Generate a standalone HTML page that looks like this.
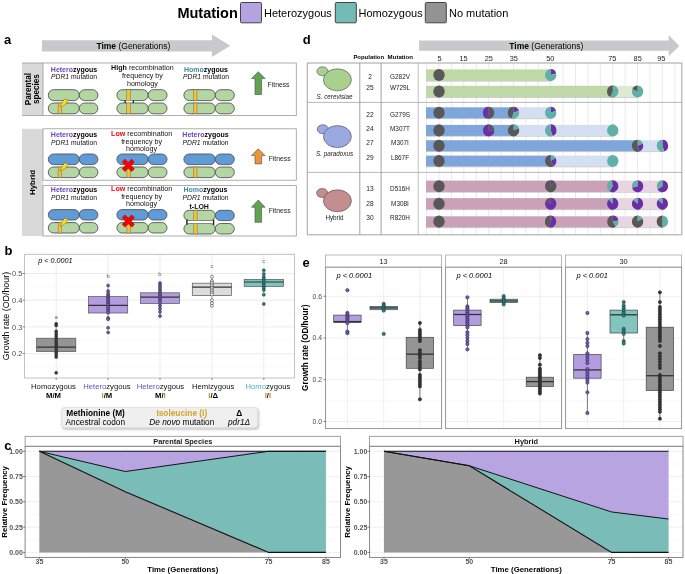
<!DOCTYPE html>
<html><head><meta charset="utf-8"><style>
html,body{margin:0;padding:0;background:#fff;}
svg{display:block;will-change:transform;font-family:"Liberation Sans", sans-serif;}
</style></head><body>
<svg width="685" height="574" viewBox="0 0 685 574" font-family='"Liberation Sans", sans-serif'>
<text x="177.40" y="18.30" font-size="14.5" text-anchor="start" font-weight="bold" font-style="normal" fill="#000" >Mutation</text>
<rect x="240.50" y="2.50" width="21.00" height="20.30" fill="#b6a2e0" stroke="#444" stroke-width="1" rx="1" />
<text x="264.00" y="17.30" font-size="11" text-anchor="start" font-weight="normal" font-style="normal" fill="#000" >Heterozygous</text>
<rect x="335.30" y="2.50" width="21.00" height="20.30" fill="#74bab5" stroke="#444" stroke-width="1" rx="1" />
<text x="358.50" y="17.30" font-size="11" text-anchor="start" font-weight="normal" font-style="normal" fill="#000" >Homozygous</text>
<rect x="425.30" y="2.50" width="21.00" height="20.30" fill="#939393" stroke="#444" stroke-width="1" rx="1" />
<text x="449.00" y="17.30" font-size="11" text-anchor="start" font-weight="normal" font-style="normal" fill="#000" >No mutation</text>
<text x="4.00" y="44.00" font-size="13" text-anchor="start" font-weight="bold" font-style="normal" fill="#000" >a</text>
<polygon points="42.00,40.20 212.00,40.20 212.00,34.50 230.30,45.80 212.00,57.00 212.00,51.50 42.00,51.50" fill="#c8c9cc" stroke="none" stroke-width="0" />
<text x="96.4" y="49.4" font-size="8.5"><tspan font-weight="bold">Time</tspan> (Generations)</text>
<rect x="22.00" y="63.00" width="21.00" height="52.50" fill="#d9d9d9" stroke="none" stroke-width="0" rx="0" />
<rect x="43.00" y="63.00" width="253.30" height="52.50" fill="#fff" stroke="#9a9a9a" stroke-width="0.8" rx="0" />
<line x1="22.00" y1="63.00" x2="43.00" y2="63.00" stroke="#9a9a9a" stroke-width="0.8" />
<line x1="22.00" y1="115.50" x2="43.00" y2="115.50" stroke="#9a9a9a" stroke-width="0.8" />
<text font-size="8.2" font-weight="bold" text-anchor="middle" transform="translate(31,89.1) rotate(-90)"><tspan x="0" y="-0.5">Parental</tspan><tspan x="0" y="8.0">species</tspan></text>
<rect x="22.00" y="128.80" width="21.00" height="107.20" fill="#d9d9d9" stroke="none" stroke-width="0" rx="0" />
<text font-size="7.9" font-weight="bold" text-anchor="middle" transform="translate(34.6,182.5) rotate(-90)">Hybrid</text>
<rect x="43.00" y="128.80" width="253.30" height="51.40" fill="#fff" stroke="#9a9a9a" stroke-width="0.8" rx="0" />
<rect x="43.00" y="185.60" width="253.30" height="50.40" fill="#fff" stroke="#9a9a9a" stroke-width="0.8" rx="0" />
<text x="74" y="71.5" font-size="7.0" text-anchor="middle" font-weight="bold"><tspan fill="#6548bd">Hetero</tspan>zygous</text>
<text x="74" y="79.3" font-size="6.75" text-anchor="middle" fill="#111"><tspan font-style="italic">PDR1</tspan> mutation</text>
<text x="142.4" y="69.9" font-size="7.15" text-anchor="middle" fill="#111"><tspan font-weight="bold" fill="#111">High</tspan> recombination</text>
<text x="142.4" y="77.9" font-size="7.15" text-anchor="middle" fill="#111">frequency by</text>
<text x="142.4" y="85.9" font-size="7.15" text-anchor="middle" fill="#111">homology</text>
<text x="206" y="71.5" font-size="7.0" text-anchor="middle" font-weight="bold"><tspan fill="#44899b">Homo</tspan>zygous</text>
<text x="206" y="79.3" font-size="6.75" text-anchor="middle" fill="#111"><tspan font-style="italic">PDR1</tspan> mutation</text>
<rect x="48.30" y="89.70" width="31.00" height="10.90" fill="#b3d6a3" stroke="#555555" stroke-width="0.9" rx="5.449999999999996" />
<rect x="79.30" y="89.70" width="18.60" height="10.90" fill="#b3d6a3" stroke="#555555" stroke-width="0.9" rx="5.449999999999996" />
<rect x="48.30" y="103.00" width="31.00" height="10.80" fill="#b3d6a3" stroke="#555555" stroke-width="0.9" rx="5.399999999999999" />
<rect x="79.30" y="103.00" width="18.60" height="10.80" fill="#b3d6a3" stroke="#555555" stroke-width="0.9" rx="5.399999999999999" />
<rect x="58.10" y="103.00" width="3.30" height="10.80" fill="#f6c02e" stroke="#5a5a5a" stroke-width="0.4" rx="0" />
<polygon points="60.00,107.00 61.60,103.00 64.60,99.00 68.60,99.90 66.50,102.00 67.60,102.80 62.00,106.40" fill="#ffdc14" stroke="#3a3a3a" stroke-width="0.35" stroke-linejoin="round"/>
<rect x="116.90" y="89.70" width="31.30" height="10.90" fill="#b3d6a3" stroke="#555555" stroke-width="0.9" rx="5.449999999999996" />
<rect x="148.20" y="89.70" width="18.80" height="10.90" fill="#b3d6a3" stroke="#555555" stroke-width="0.9" rx="5.449999999999996" />
<rect x="116.90" y="103.00" width="31.30" height="10.80" fill="#b3d6a3" stroke="#555555" stroke-width="0.9" rx="5.399999999999999" />
<rect x="148.20" y="103.00" width="18.80" height="10.80" fill="#b3d6a3" stroke="#555555" stroke-width="0.9" rx="5.399999999999999" />
<rect x="126.70" y="89.70" width="3.50" height="10.90" fill="#f6c02e" stroke="#5a5a5a" stroke-width="0.4" rx="0" />
<rect x="126.70" y="103.00" width="3.50" height="10.80" fill="#f6c02e" stroke="#5a5a5a" stroke-width="0.4" rx="0" />
<rect x="125.10" y="100.50" width="8.30" height="2.20" fill="#fff" stroke="#777" stroke-width="0.4" rx="0" />
<line x1="125.20" y1="100.30" x2="125.20" y2="102.90" stroke="#222" stroke-width="1.3" />
<line x1="133.30" y1="100.30" x2="133.30" y2="102.90" stroke="#222" stroke-width="1.3" />
<rect x="183.90" y="89.70" width="31.40" height="10.90" fill="#b3d6a3" stroke="#555555" stroke-width="0.9" rx="5.449999999999996" />
<rect x="215.30" y="89.70" width="19.00" height="10.90" fill="#b3d6a3" stroke="#555555" stroke-width="0.9" rx="5.449999999999996" />
<rect x="183.90" y="103.00" width="31.40" height="10.80" fill="#b3d6a3" stroke="#555555" stroke-width="0.9" rx="5.399999999999999" />
<rect x="215.30" y="103.00" width="19.00" height="10.80" fill="#b3d6a3" stroke="#555555" stroke-width="0.9" rx="5.399999999999999" />
<rect x="193.60" y="89.70" width="3.40" height="10.90" fill="#f6c02e" stroke="#5a5a5a" stroke-width="0.4" rx="0" />
<rect x="193.60" y="103.00" width="3.40" height="10.80" fill="#f6c02e" stroke="#5a5a5a" stroke-width="0.4" rx="0" />
<polygon points="258.30,71.70 265.10,78.60 261.60,78.60 261.60,94.50 255.00,94.50 255.00,78.60 251.50,78.60" fill="#62a34f" stroke="#4a4a4a" stroke-width="0.6" />
<text x="267.60" y="87.10" font-size="6.8" text-anchor="start" font-weight="normal" font-style="normal" fill="#222" >Fitness</text>
<text x="74" y="136.9" font-size="7.0" text-anchor="middle" font-weight="bold"><tspan fill="#6548bd">Hetero</tspan>zygous</text>
<text x="74" y="144.70000000000002" font-size="6.75" text-anchor="middle" fill="#111"><tspan font-style="italic">PDR1</tspan> mutation</text>
<text x="141.6" y="135.9" font-size="7.15" text-anchor="middle" fill="#111"><tspan font-weight="bold" fill="#ff0000">Low</tspan> recombination</text>
<text x="141.6" y="143.6" font-size="7.15" text-anchor="middle" fill="#111">frequency by</text>
<text x="141.6" y="151.3" font-size="7.15" text-anchor="middle" fill="#111">homology</text>
<text x="205.5" y="136.9" font-size="7.0" text-anchor="middle" font-weight="bold"><tspan fill="#6548bd">Hetero</tspan>zygous</text>
<text x="205.5" y="144.70000000000002" font-size="6.75" text-anchor="middle" fill="#111"><tspan font-style="italic">PDR1</tspan> mutation</text>
<rect x="48.30" y="154.00" width="31.00" height="10.60" fill="#5f9bd6" stroke="#555555" stroke-width="0.9" rx="5.299999999999997" />
<rect x="79.30" y="154.00" width="18.60" height="10.60" fill="#5f9bd6" stroke="#555555" stroke-width="0.9" rx="5.299999999999997" />
<rect x="48.30" y="167.00" width="31.00" height="10.60" fill="#b3d6a3" stroke="#555555" stroke-width="0.9" rx="5.299999999999997" />
<rect x="79.30" y="167.00" width="18.60" height="10.60" fill="#b3d6a3" stroke="#555555" stroke-width="0.9" rx="5.299999999999997" />
<rect x="58.10" y="167.00" width="3.30" height="10.60" fill="#f6c02e" stroke="#5a5a5a" stroke-width="0.4" rx="0" />
<polygon points="60.00,170.90 61.60,166.90 64.60,162.90 68.60,163.80 66.50,165.90 67.60,166.70 62.00,170.30" fill="#ffdc14" stroke="#3a3a3a" stroke-width="0.35" stroke-linejoin="round"/>
<rect x="116.90" y="154.00" width="31.30" height="10.60" fill="#5f9bd6" stroke="#555555" stroke-width="0.9" rx="5.299999999999997" />
<rect x="148.20" y="154.00" width="18.80" height="10.60" fill="#5f9bd6" stroke="#555555" stroke-width="0.9" rx="5.299999999999997" />
<rect x="116.90" y="167.00" width="31.30" height="10.60" fill="#b3d6a3" stroke="#555555" stroke-width="0.9" rx="5.299999999999997" />
<rect x="148.20" y="167.00" width="18.80" height="10.60" fill="#b3d6a3" stroke="#555555" stroke-width="0.9" rx="5.299999999999997" />
<rect x="126.90" y="164.50" width="3.30" height="13.10" fill="#f6c02e" stroke="#5a5a5a" stroke-width="0.4" rx="0" />
<line x1="123.50" y1="160.60" x2="133.10" y2="170.20" stroke="#6b2020" stroke-width="4.3" />
<line x1="123.50" y1="170.20" x2="133.10" y2="160.60" stroke="#6b2020" stroke-width="4.3" />
<line x1="123.50" y1="160.60" x2="133.10" y2="170.20" stroke="#ff0000" stroke-width="3.3" />
<line x1="123.50" y1="170.20" x2="133.10" y2="160.60" stroke="#ff0000" stroke-width="3.3" />
<line x1="123.50" y1="160.60" x2="133.10" y2="170.20" stroke="#ff0000" stroke-width="3.3"/>
<rect x="183.90" y="154.00" width="31.40" height="10.60" fill="#5f9bd6" stroke="#555555" stroke-width="0.9" rx="5.299999999999997" />
<rect x="215.30" y="154.00" width="19.00" height="10.60" fill="#5f9bd6" stroke="#555555" stroke-width="0.9" rx="5.299999999999997" />
<rect x="183.90" y="167.00" width="31.40" height="10.60" fill="#b3d6a3" stroke="#555555" stroke-width="0.9" rx="5.299999999999997" />
<rect x="215.30" y="167.00" width="19.00" height="10.60" fill="#b3d6a3" stroke="#555555" stroke-width="0.9" rx="5.299999999999997" />
<rect x="193.60" y="167.00" width="3.40" height="10.60" fill="#f6c02e" stroke="#5a5a5a" stroke-width="0.4" rx="0" />
<polygon points="258.30,148.80 265.10,155.60 261.60,155.60 261.60,163.90 255.00,163.90 255.00,155.60 251.50,155.60" fill="#f0943a" stroke="#4a4a4a" stroke-width="0.6" />
<text x="268.70" y="161.10" font-size="6.8" text-anchor="start" font-weight="normal" font-style="normal" fill="#222" >Fitness</text>
<text x="74" y="191.9" font-size="7.0" text-anchor="middle" font-weight="bold"><tspan fill="#6548bd">Hetero</tspan>zygous</text>
<text x="74" y="199.70000000000002" font-size="6.75" text-anchor="middle" fill="#111"><tspan font-style="italic">PDR1</tspan> mutation</text>
<text x="141.6" y="190.9" font-size="7.15" text-anchor="middle" fill="#111"><tspan font-weight="bold" fill="#ff0000">Low</tspan> recombination</text>
<text x="141.6" y="198.6" font-size="7.15" text-anchor="middle" fill="#111">frequency by</text>
<text x="141.6" y="206.3" font-size="7.15" text-anchor="middle" fill="#111">homology</text>
<text x="205.5" y="191.9" font-size="7.0" text-anchor="middle" font-weight="bold"><tspan fill="#44899b">Homo</tspan>zygous</text>
<text x="205.5" y="199.70000000000002" font-size="6.75" text-anchor="middle" fill="#111"><tspan font-style="italic">PDR1</tspan> mutation</text>
<text x="199.20" y="208.80" font-size="7.0" text-anchor="middle" font-weight="bold" font-style="normal" fill="#111" >t-LOH</text>
<rect x="48.30" y="209.60" width="31.00" height="10.40" fill="#5f9bd6" stroke="#555555" stroke-width="0.9" rx="5.200000000000003" />
<rect x="79.30" y="209.60" width="18.60" height="10.40" fill="#5f9bd6" stroke="#555555" stroke-width="0.9" rx="5.200000000000003" />
<rect x="48.30" y="222.60" width="31.00" height="10.40" fill="#b3d6a3" stroke="#555555" stroke-width="0.9" rx="5.200000000000003" />
<rect x="79.30" y="222.60" width="18.60" height="10.40" fill="#b3d6a3" stroke="#555555" stroke-width="0.9" rx="5.200000000000003" />
<rect x="58.10" y="222.60" width="3.30" height="10.40" fill="#f6c02e" stroke="#5a5a5a" stroke-width="0.4" rx="0" />
<polygon points="60.00,226.20 61.60,222.20 64.60,218.20 68.60,219.10 66.50,221.20 67.60,222.00 62.00,225.60" fill="#ffdc14" stroke="#3a3a3a" stroke-width="0.35" stroke-linejoin="round"/>
<rect x="116.90" y="209.60" width="31.30" height="10.40" fill="#5f9bd6" stroke="#555555" stroke-width="0.9" rx="5.200000000000003" />
<rect x="148.20" y="209.60" width="18.80" height="10.40" fill="#5f9bd6" stroke="#555555" stroke-width="0.9" rx="5.200000000000003" />
<rect x="116.90" y="222.60" width="31.30" height="10.40" fill="#b3d6a3" stroke="#555555" stroke-width="0.9" rx="5.200000000000003" />
<rect x="148.20" y="222.60" width="18.80" height="10.40" fill="#b3d6a3" stroke="#555555" stroke-width="0.9" rx="5.200000000000003" />
<rect x="126.90" y="220.10" width="3.30" height="12.90" fill="#f6c02e" stroke="#5a5a5a" stroke-width="0.4" rx="0" />
<line x1="123.50" y1="216.20" x2="133.10" y2="225.80" stroke="#6b2020" stroke-width="4.3" />
<line x1="123.50" y1="225.80" x2="133.10" y2="216.20" stroke="#6b2020" stroke-width="4.3" />
<line x1="123.50" y1="216.20" x2="133.10" y2="225.80" stroke="#ff0000" stroke-width="3.3" />
<line x1="123.50" y1="225.80" x2="133.10" y2="216.20" stroke="#ff0000" stroke-width="3.3" />
<line x1="123.50" y1="216.20" x2="133.10" y2="225.80" stroke="#ff0000" stroke-width="3.3"/>
<rect x="183.90" y="210.30" width="31.40" height="10.30" fill="#b3d6a3" stroke="#555555" stroke-width="0.9" rx="5.1499999999999915" />
<rect x="215.30" y="210.30" width="19.00" height="10.30" fill="#5f9bd6" stroke="#555555" stroke-width="0.9" rx="5.1499999999999915" />
<rect x="183.90" y="223.50" width="31.40" height="10.50" fill="#b3d6a3" stroke="#555555" stroke-width="0.9" rx="5.25" />
<rect x="215.30" y="223.50" width="19.00" height="10.50" fill="#b3d6a3" stroke="#555555" stroke-width="0.9" rx="5.25" />
<rect x="193.80" y="210.30" width="3.30" height="10.30" fill="#f6c02e" stroke="#5a5a5a" stroke-width="0.4" rx="0" />
<rect x="193.80" y="223.50" width="3.30" height="10.50" fill="#f6c02e" stroke="#5a5a5a" stroke-width="0.4" rx="0" />
<rect x="186.80" y="220.80" width="26.90" height="2.50" fill="#fff" stroke="#777" stroke-width="0.4" rx="0" />
<line x1="186.90" y1="219.60" x2="186.90" y2="224.80" stroke="#222" stroke-width="1.4" />
<line x1="213.60" y1="219.60" x2="213.60" y2="224.80" stroke="#222" stroke-width="1.4" />
<polygon points="258.30,200.00 265.10,207.20 261.60,207.20 261.60,222.30 255.00,222.30 255.00,207.20 251.50,207.20" fill="#62a34f" stroke="#4a4a4a" stroke-width="0.6" />
<text x="268.70" y="213.40" font-size="6.8" text-anchor="start" font-weight="normal" font-style="normal" fill="#222" >Fitness</text>
<text x="4.50" y="254.80" font-size="13" text-anchor="start" font-weight="bold" font-style="normal" fill="#000" >b</text>
<rect x="24.60" y="254.30" width="270.00" height="123.70" fill="#fff" stroke="none" stroke-width="0" rx="0" />
<line x1="24.60" y1="366.95" x2="294.60" y2="366.95" stroke="#f5f5f5" stroke-width="0.5" />
<line x1="24.60" y1="340.25" x2="294.60" y2="340.25" stroke="#f5f5f5" stroke-width="0.5" />
<line x1="24.60" y1="313.55" x2="294.60" y2="313.55" stroke="#f5f5f5" stroke-width="0.5" />
<line x1="24.60" y1="286.85" x2="294.60" y2="286.85" stroke="#f5f5f5" stroke-width="0.5" />
<line x1="24.60" y1="260.15" x2="294.60" y2="260.15" stroke="#f5f5f5" stroke-width="0.5" />
<line x1="24.60" y1="353.60" x2="294.60" y2="353.60" stroke="#ebebeb" stroke-width="0.9" />
<line x1="24.60" y1="326.90" x2="294.60" y2="326.90" stroke="#ebebeb" stroke-width="0.9" />
<line x1="24.60" y1="300.20" x2="294.60" y2="300.20" stroke="#ebebeb" stroke-width="0.9" />
<line x1="24.60" y1="273.50" x2="294.60" y2="273.50" stroke="#ebebeb" stroke-width="0.9" />
<line x1="56.20" y1="254.30" x2="56.20" y2="378.00" stroke="#ebebeb" stroke-width="0.9" />
<line x1="108.10" y1="254.30" x2="108.10" y2="378.00" stroke="#ebebeb" stroke-width="0.9" />
<line x1="160.00" y1="254.30" x2="160.00" y2="378.00" stroke="#ebebeb" stroke-width="0.9" />
<line x1="211.90" y1="254.30" x2="211.90" y2="378.00" stroke="#ebebeb" stroke-width="0.9" />
<line x1="263.80" y1="254.30" x2="263.80" y2="378.00" stroke="#ebebeb" stroke-width="0.9" />
<rect x="24.60" y="254.30" width="270.00" height="123.70" fill="none" stroke="#b3b3b3" stroke-width="0.8" rx="0" />
<line x1="22.60" y1="353.60" x2="24.60" y2="353.60" stroke="#333" stroke-width="0.6" />
<text x="22.30" y="356.20" font-size="7.4" text-anchor="end" font-weight="normal" font-style="normal" fill="#4d4d4d" >0.2</text>
<line x1="22.60" y1="326.90" x2="24.60" y2="326.90" stroke="#333" stroke-width="0.6" />
<text x="22.30" y="329.50" font-size="7.4" text-anchor="end" font-weight="normal" font-style="normal" fill="#4d4d4d" >0.3</text>
<line x1="22.60" y1="300.20" x2="24.60" y2="300.20" stroke="#333" stroke-width="0.6" />
<text x="22.30" y="302.80" font-size="7.4" text-anchor="end" font-weight="normal" font-style="normal" fill="#4d4d4d" >0.4</text>
<line x1="22.60" y1="273.50" x2="24.60" y2="273.50" stroke="#333" stroke-width="0.6" />
<text x="22.30" y="276.10" font-size="7.4" text-anchor="end" font-weight="normal" font-style="normal" fill="#4d4d4d" >0.5</text>
<line x1="56.20" y1="378.00" x2="56.20" y2="380.00" stroke="#333" stroke-width="0.6" />
<line x1="108.10" y1="378.00" x2="108.10" y2="380.00" stroke="#333" stroke-width="0.6" />
<line x1="160.00" y1="378.00" x2="160.00" y2="380.00" stroke="#333" stroke-width="0.6" />
<line x1="211.90" y1="378.00" x2="211.90" y2="380.00" stroke="#333" stroke-width="0.6" />
<line x1="263.80" y1="378.00" x2="263.80" y2="380.00" stroke="#333" stroke-width="0.6" />
<text font-size="8.9" text-anchor="middle" transform="translate(9.0,316.0) rotate(-90)">Growth rate (OD/hour)</text>
<text x="38.30" y="262.50" font-size="7.2" text-anchor="start" font-weight="normal" font-style="italic" fill="#000" >p &lt; 0.0001</text>
<line x1="56.20" y1="323.70" x2="56.20" y2="338.20" stroke="#777" stroke-width="0.6" />
<line x1="56.20" y1="351.50" x2="56.20" y2="357.00" stroke="#777" stroke-width="0.6" />
<rect x="36.60" y="338.20" width="39.20" height="13.30" fill="#959595" stroke="#555" stroke-width="0.7" rx="0" />
<line x1="36.60" y1="347.20" x2="75.80" y2="347.20" stroke="#333" stroke-width="1.2" />
<circle cx="56.20" cy="323.70" r="1.50" fill="#3a3a3a" stroke="#2a2a2a" stroke-width="0.55"/>
<circle cx="56.20" cy="325.40" r="1.50" fill="#3a3a3a" stroke="#2a2a2a" stroke-width="0.55"/>
<circle cx="56.20" cy="331.30" r="1.50" fill="#3a3a3a" stroke="#2a2a2a" stroke-width="0.55"/>
<circle cx="56.20" cy="333.64" r="1.50" fill="#3a3a3a" stroke="#2a2a2a" stroke-width="0.55"/>
<circle cx="56.20" cy="335.97" r="1.50" fill="#3a3a3a" stroke="#2a2a2a" stroke-width="0.55"/>
<circle cx="56.20" cy="338.31" r="1.50" fill="#3a3a3a" stroke="#2a2a2a" stroke-width="0.55"/>
<circle cx="56.20" cy="340.65" r="1.50" fill="#3a3a3a" stroke="#2a2a2a" stroke-width="0.55"/>
<circle cx="56.20" cy="342.98" r="1.50" fill="#3a3a3a" stroke="#2a2a2a" stroke-width="0.55"/>
<circle cx="56.20" cy="345.32" r="1.50" fill="#3a3a3a" stroke="#2a2a2a" stroke-width="0.55"/>
<circle cx="56.20" cy="347.65" r="1.50" fill="#3a3a3a" stroke="#2a2a2a" stroke-width="0.55"/>
<circle cx="56.20" cy="349.99" r="1.50" fill="#3a3a3a" stroke="#2a2a2a" stroke-width="0.55"/>
<circle cx="56.20" cy="352.33" r="1.50" fill="#3a3a3a" stroke="#2a2a2a" stroke-width="0.55"/>
<circle cx="56.20" cy="354.66" r="1.50" fill="#3a3a3a" stroke="#2a2a2a" stroke-width="0.55"/>
<circle cx="56.20" cy="357.00" r="1.50" fill="#3a3a3a" stroke="#2a2a2a" stroke-width="0.55"/>
<circle cx="56.20" cy="372.80" r="1.50" fill="#3a3a3a" stroke="#2a2a2a" stroke-width="0.55"/>
<text x="56.20" y="319.30" font-size="5.9" text-anchor="middle" font-weight="normal" font-style="normal" fill="#666" >a</text>
<line x1="108.10" y1="285.50" x2="108.10" y2="296.50" stroke="#777" stroke-width="0.6" />
<line x1="108.10" y1="313.00" x2="108.10" y2="319.30" stroke="#777" stroke-width="0.6" />
<rect x="88.50" y="296.50" width="39.20" height="16.50" fill="#b39de0" stroke="#555" stroke-width="0.7" rx="0" />
<line x1="88.50" y1="305.30" x2="127.70" y2="305.30" stroke="#333" stroke-width="1.2" />
<circle cx="108.10" cy="285.50" r="1.50" fill="#7459c6" stroke="#2a2a2a" stroke-width="0.55"/>
<circle cx="108.10" cy="291.00" r="1.50" fill="#7459c6" stroke="#2a2a2a" stroke-width="0.55"/>
<circle cx="108.10" cy="293.40" r="1.50" fill="#7459c6" stroke="#2a2a2a" stroke-width="0.55"/>
<circle cx="108.10" cy="295.20" r="1.50" fill="#7459c6" stroke="#2a2a2a" stroke-width="0.55"/>
<circle cx="108.10" cy="296.90" r="1.50" fill="#7459c6" stroke="#2a2a2a" stroke-width="0.55"/>
<circle cx="108.10" cy="298.30" r="1.50" fill="#7459c6" stroke="#2a2a2a" stroke-width="0.55"/>
<circle cx="108.10" cy="300.00" r="1.50" fill="#7459c6" stroke="#2a2a2a" stroke-width="0.55"/>
<circle cx="108.10" cy="301.50" r="1.50" fill="#7459c6" stroke="#2a2a2a" stroke-width="0.55"/>
<circle cx="108.10" cy="303.10" r="1.50" fill="#7459c6" stroke="#2a2a2a" stroke-width="0.55"/>
<circle cx="108.10" cy="304.80" r="1.50" fill="#7459c6" stroke="#2a2a2a" stroke-width="0.55"/>
<circle cx="108.10" cy="306.80" r="1.50" fill="#7459c6" stroke="#2a2a2a" stroke-width="0.55"/>
<circle cx="108.10" cy="308.80" r="1.50" fill="#7459c6" stroke="#2a2a2a" stroke-width="0.55"/>
<circle cx="108.10" cy="310.70" r="1.50" fill="#7459c6" stroke="#2a2a2a" stroke-width="0.55"/>
<circle cx="108.10" cy="312.70" r="1.50" fill="#7459c6" stroke="#2a2a2a" stroke-width="0.55"/>
<circle cx="108.10" cy="318.00" r="1.50" fill="#7459c6" stroke="#2a2a2a" stroke-width="0.55"/>
<circle cx="108.10" cy="319.30" r="1.50" fill="#7459c6" stroke="#2a2a2a" stroke-width="0.55"/>
<circle cx="108.10" cy="327.80" r="1.50" fill="#7459c6" stroke="#2a2a2a" stroke-width="0.55"/>
<circle cx="108.10" cy="332.40" r="1.50" fill="#7459c6" stroke="#2a2a2a" stroke-width="0.55"/>
<text x="108.10" y="278.30" font-size="5.9" text-anchor="middle" font-weight="normal" font-style="normal" fill="#666" >b</text>
<line x1="160.00" y1="283.10" x2="160.00" y2="292.80" stroke="#777" stroke-width="0.6" />
<line x1="160.00" y1="303.50" x2="160.00" y2="316.00" stroke="#777" stroke-width="0.6" />
<rect x="140.40" y="292.80" width="39.20" height="10.70" fill="#b39de0" stroke="#555" stroke-width="0.7" rx="0" />
<line x1="140.40" y1="297.20" x2="179.60" y2="297.20" stroke="#333" stroke-width="1.2" />
<circle cx="160.00" cy="283.10" r="1.50" fill="#7459c6" stroke="#2a2a2a" stroke-width="0.55"/>
<circle cx="160.00" cy="285.10" r="1.50" fill="#7459c6" stroke="#2a2a2a" stroke-width="0.55"/>
<circle cx="160.00" cy="287.10" r="1.50" fill="#7459c6" stroke="#2a2a2a" stroke-width="0.55"/>
<circle cx="160.00" cy="289.10" r="1.50" fill="#7459c6" stroke="#2a2a2a" stroke-width="0.55"/>
<circle cx="160.00" cy="291.00" r="1.50" fill="#7459c6" stroke="#2a2a2a" stroke-width="0.55"/>
<circle cx="160.00" cy="293.00" r="1.50" fill="#7459c6" stroke="#2a2a2a" stroke-width="0.55"/>
<circle cx="160.00" cy="295.00" r="1.50" fill="#7459c6" stroke="#2a2a2a" stroke-width="0.55"/>
<circle cx="160.00" cy="296.90" r="1.50" fill="#7459c6" stroke="#2a2a2a" stroke-width="0.55"/>
<circle cx="160.00" cy="298.90" r="1.50" fill="#7459c6" stroke="#2a2a2a" stroke-width="0.55"/>
<circle cx="160.00" cy="300.90" r="1.50" fill="#7459c6" stroke="#2a2a2a" stroke-width="0.55"/>
<circle cx="160.00" cy="303.50" r="1.50" fill="#7459c6" stroke="#2a2a2a" stroke-width="0.55"/>
<circle cx="160.00" cy="306.10" r="1.50" fill="#7459c6" stroke="#2a2a2a" stroke-width="0.55"/>
<circle cx="160.00" cy="308.80" r="1.50" fill="#7459c6" stroke="#2a2a2a" stroke-width="0.55"/>
<circle cx="160.00" cy="311.80" r="1.50" fill="#7459c6" stroke="#2a2a2a" stroke-width="0.55"/>
<circle cx="160.00" cy="316.00" r="1.50" fill="#7459c6" stroke="#2a2a2a" stroke-width="0.55"/>
<text x="160.00" y="275.60" font-size="5.9" text-anchor="middle" font-weight="normal" font-style="normal" fill="#666" >b</text>
<line x1="211.90" y1="276.60" x2="211.90" y2="283.20" stroke="#777" stroke-width="0.6" />
<line x1="211.90" y1="295.60" x2="211.90" y2="305.80" stroke="#777" stroke-width="0.6" />
<rect x="192.30" y="283.20" width="39.20" height="12.40" fill="#dcdcdc" stroke="#555" stroke-width="0.7" rx="0" />
<line x1="192.30" y1="287.10" x2="231.50" y2="287.10" stroke="#333" stroke-width="1.2" />
<circle cx="211.90" cy="276.60" r="1.50" fill="#fff" stroke="#2a2a2a" stroke-width="0.55"/>
<circle cx="211.90" cy="281.00" r="1.50" fill="#fff" stroke="#2a2a2a" stroke-width="0.55"/>
<circle cx="211.90" cy="282.68" r="1.50" fill="#fff" stroke="#2a2a2a" stroke-width="0.55"/>
<circle cx="211.90" cy="284.35" r="1.50" fill="#fff" stroke="#2a2a2a" stroke-width="0.55"/>
<circle cx="211.90" cy="286.02" r="1.50" fill="#fff" stroke="#2a2a2a" stroke-width="0.55"/>
<circle cx="211.90" cy="287.70" r="1.50" fill="#fff" stroke="#2a2a2a" stroke-width="0.55"/>
<circle cx="211.90" cy="289.38" r="1.50" fill="#fff" stroke="#2a2a2a" stroke-width="0.55"/>
<circle cx="211.90" cy="291.05" r="1.50" fill="#fff" stroke="#2a2a2a" stroke-width="0.55"/>
<circle cx="211.90" cy="292.72" r="1.50" fill="#fff" stroke="#2a2a2a" stroke-width="0.55"/>
<circle cx="211.90" cy="294.40" r="1.50" fill="#fff" stroke="#2a2a2a" stroke-width="0.55"/>
<circle cx="211.90" cy="300.30" r="1.50" fill="#fff" stroke="#2a2a2a" stroke-width="0.55"/>
<circle cx="211.90" cy="303.20" r="1.50" fill="#fff" stroke="#2a2a2a" stroke-width="0.55"/>
<circle cx="211.90" cy="305.80" r="1.50" fill="#fff" stroke="#2a2a2a" stroke-width="0.55"/>
<text x="211.90" y="267.50" font-size="5.9" text-anchor="middle" font-weight="normal" font-style="normal" fill="#666" >c</text>
<line x1="263.80" y1="270.30" x2="263.80" y2="279.40" stroke="#777" stroke-width="0.6" />
<line x1="263.80" y1="286.40" x2="263.80" y2="294.70" stroke="#777" stroke-width="0.6" />
<rect x="244.20" y="279.40" width="39.20" height="7.00" fill="#7cc4be" stroke="#555" stroke-width="0.7" rx="0" />
<line x1="244.20" y1="282.00" x2="283.40" y2="282.00" stroke="#333" stroke-width="1.2" />
<circle cx="263.80" cy="270.30" r="1.50" fill="#1f8a86" stroke="#2a2a2a" stroke-width="0.55"/>
<circle cx="263.80" cy="274.00" r="1.50" fill="#1f8a86" stroke="#2a2a2a" stroke-width="0.55"/>
<circle cx="263.80" cy="276.90" r="1.50" fill="#1f8a86" stroke="#2a2a2a" stroke-width="0.55"/>
<circle cx="263.80" cy="279.10" r="1.50" fill="#1f8a86" stroke="#2a2a2a" stroke-width="0.55"/>
<circle cx="263.80" cy="281.30" r="1.50" fill="#1f8a86" stroke="#2a2a2a" stroke-width="0.55"/>
<circle cx="263.80" cy="283.50" r="1.50" fill="#1f8a86" stroke="#2a2a2a" stroke-width="0.55"/>
<circle cx="263.80" cy="285.70" r="1.50" fill="#1f8a86" stroke="#2a2a2a" stroke-width="0.55"/>
<circle cx="263.80" cy="287.80" r="1.50" fill="#1f8a86" stroke="#2a2a2a" stroke-width="0.55"/>
<circle cx="263.80" cy="290.00" r="1.50" fill="#1f8a86" stroke="#2a2a2a" stroke-width="0.55"/>
<circle cx="263.80" cy="294.70" r="1.50" fill="#1f8a86" stroke="#2a2a2a" stroke-width="0.55"/>
<circle cx="263.80" cy="303.90" r="1.50" fill="#1f8a86" stroke="#2a2a2a" stroke-width="0.55"/>
<text x="263.80" y="262.50" font-size="5.9" text-anchor="middle" font-weight="normal" font-style="normal" fill="#666" >c</text>
<text x="53.5" y="389.0" font-size="7.7" text-anchor="middle" fill="#111">Homozygous</text>
<text x="53.5" y="397.7" font-size="7.7" text-anchor="middle" font-weight="bold"><tspan fill="#000">M</tspan><tspan fill="#000">/</tspan><tspan fill="#000">M</tspan></text>
<text x="106.9" y="389.0" font-size="7.7" text-anchor="middle" fill="#111"><tspan fill="#5d55b8">Hetero</tspan>zygous</text>
<text x="106.9" y="397.7" font-size="7.7" text-anchor="middle" font-weight="bold"><tspan fill="#c8902a">I</tspan><tspan fill="#000">/M</tspan></text>
<text x="160.4" y="389.0" font-size="7.7" text-anchor="middle" fill="#111"><tspan fill="#5d55b8">Hetero</tspan>zygous</text>
<text x="160.4" y="397.7" font-size="7.7" text-anchor="middle" font-weight="bold"><tspan fill="#000">M/</tspan><tspan fill="#c8902a">I</tspan></text>
<text x="213.2" y="389.0" font-size="7.7" text-anchor="middle" fill="#111">Hemizygous</text>
<text x="213.2" y="397.7" font-size="7.7" text-anchor="middle" font-weight="bold"><tspan fill="#c8902a">I</tspan><tspan fill="#000">/</tspan><tspan fill="#000">Δ</tspan></text>
<text x="267.9" y="389.0" font-size="7.7" text-anchor="middle" fill="#111"><tspan fill="#4fb0c0">Homo</tspan>zygous</text>
<text x="267.9" y="397.7" font-size="7.7" text-anchor="middle" font-weight="bold"><tspan fill="#c8902a">I</tspan><tspan fill="#000">/</tspan><tspan fill="#c8902a">I</tspan></text>
<defs><filter id="sh" x="-5%" y="-10%" width="110%" height="130%"><feDropShadow dx="0.8" dy="1.2" stdDeviation="0.8" flood-color="#000" flood-opacity="0.35"/></filter></defs>
<rect x="61.60" y="407.40" width="196.00" height="20.40" fill="#efefef" stroke="#cfcfcf" stroke-width="0.5" rx="3" filter="url(#sh)"/>
<text x="95.60" y="415.70" font-size="8.3" text-anchor="middle" font-weight="bold" font-style="normal" fill="#000" >Methionine (M)</text>
<text x="95.30" y="425.20" font-size="8.3" text-anchor="middle" font-weight="normal" font-style="normal" fill="#000" >Ancestral codon</text>
<text x="181.80" y="415.70" font-size="8.3" text-anchor="middle" font-weight="bold" font-style="normal" fill="#d8a322" >Isoleucine (I)</text>
<text x="181.8" y="425.2" font-size="8.3" text-anchor="middle"><tspan font-style="italic">De novo</tspan> mutation</text>
<text x="239.20" y="415.70" font-size="8.3" text-anchor="middle" font-weight="bold" font-style="normal" fill="#000" >Δ</text>
<text x="239.00" y="425.20" font-size="8.3" text-anchor="middle" font-weight="normal" font-style="italic" fill="#000" >pdr1Δ</text>
<text x="4.30" y="449.60" font-size="13" text-anchor="start" font-weight="bold" font-style="normal" fill="#000" >c</text>
<rect x="25.10" y="436.30" width="315.40" height="10.00" fill="#fff" stroke="#8a8a8a" stroke-width="0.8" rx="0" />
<text x="182.80" y="443.60" font-size="7.4" text-anchor="middle" font-weight="bold" font-style="normal" fill="#1a1a1a" >Parental Species</text>
<rect x="25.10" y="446.30" width="315.40" height="111.10" fill="#fff" stroke="none" stroke-width="0" rx="0" />
<line x1="25.10" y1="539.76" x2="340.50" y2="539.76" stroke="#f5f5f5" stroke-width="0.5" />
<line x1="25.10" y1="514.49" x2="340.50" y2="514.49" stroke="#f5f5f5" stroke-width="0.5" />
<line x1="25.10" y1="489.21" x2="340.50" y2="489.21" stroke="#f5f5f5" stroke-width="0.5" />
<line x1="25.10" y1="463.94" x2="340.50" y2="463.94" stroke="#f5f5f5" stroke-width="0.5" />
<line x1="82.38" y1="446.30" x2="82.38" y2="557.40" stroke="#f5f5f5" stroke-width="0.5" />
<line x1="196.98" y1="446.30" x2="196.98" y2="557.40" stroke="#f5f5f5" stroke-width="0.5" />
<line x1="297.25" y1="446.30" x2="297.25" y2="557.40" stroke="#f5f5f5" stroke-width="0.5" />
<line x1="25.10" y1="552.40" x2="340.50" y2="552.40" stroke="#ebebeb" stroke-width="0.8" />
<line x1="25.10" y1="527.12" x2="340.50" y2="527.12" stroke="#ebebeb" stroke-width="0.8" />
<line x1="25.10" y1="501.85" x2="340.50" y2="501.85" stroke="#ebebeb" stroke-width="0.8" />
<line x1="25.10" y1="476.57" x2="340.50" y2="476.57" stroke="#ebebeb" stroke-width="0.8" />
<line x1="25.10" y1="451.30" x2="340.50" y2="451.30" stroke="#ebebeb" stroke-width="0.8" />
<line x1="39.40" y1="446.30" x2="39.40" y2="557.40" stroke="#ebebeb" stroke-width="0.8" />
<line x1="125.35" y1="446.30" x2="125.35" y2="557.40" stroke="#ebebeb" stroke-width="0.8" />
<line x1="268.60" y1="446.30" x2="268.60" y2="557.40" stroke="#ebebeb" stroke-width="0.8" />
<line x1="325.90" y1="446.30" x2="325.90" y2="557.40" stroke="#ebebeb" stroke-width="0.8" />
<polygon points="39.40,451.30 125.35,451.30 268.60,451.30 325.90,451.30 325.90,451.30 268.60,451.30 125.35,471.52 39.40,451.30" fill="#b6a1e0" stroke="none" stroke-width="0" opacity="0.97"/>
<polygon points="39.40,451.30 125.35,471.52 268.60,451.30 325.90,451.30 325.90,552.40 268.60,552.40 125.35,491.74 39.40,451.30" fill="#75bab6" stroke="none" stroke-width="0" opacity="0.97"/>
<polygon points="39.40,451.30 125.35,491.74 268.60,552.40 325.90,552.40 325.90,552.40 268.60,552.40 125.35,552.40 39.40,552.40" fill="#959595" stroke="none" stroke-width="0" opacity="0.97"/>
<polyline points="39.40,451.30 125.35,451.30 268.60,451.30 325.90,451.30" fill="none" stroke="#111" stroke-width="1.1" />
<polyline points="39.40,451.30 125.35,471.52 268.60,451.30 325.90,451.30" fill="none" stroke="#111" stroke-width="1.0" />
<polyline points="39.40,451.30 125.35,491.74 268.60,552.40 325.90,552.40" fill="none" stroke="#111" stroke-width="1.1" />
<rect x="25.10" y="446.30" width="315.40" height="111.10" fill="none" stroke="#7a7a7a" stroke-width="0.9" rx="0" />
<line x1="23.10" y1="552.40" x2="25.10" y2="552.40" stroke="#333" stroke-width="0.6" />
<text x="22.80" y="554.90" font-size="7.0" text-anchor="end" font-weight="bold" font-style="normal" fill="#555" >0.00</text>
<line x1="23.10" y1="527.12" x2="25.10" y2="527.12" stroke="#333" stroke-width="0.6" />
<text x="22.80" y="529.62" font-size="7.0" text-anchor="end" font-weight="bold" font-style="normal" fill="#555" >0.25</text>
<line x1="23.10" y1="501.85" x2="25.10" y2="501.85" stroke="#333" stroke-width="0.6" />
<text x="22.80" y="504.35" font-size="7.0" text-anchor="end" font-weight="bold" font-style="normal" fill="#555" >0.50</text>
<line x1="23.10" y1="476.57" x2="25.10" y2="476.57" stroke="#333" stroke-width="0.6" />
<text x="22.80" y="479.07" font-size="7.0" text-anchor="end" font-weight="bold" font-style="normal" fill="#555" >0.75</text>
<line x1="23.10" y1="451.30" x2="25.10" y2="451.30" stroke="#333" stroke-width="0.6" />
<text x="22.80" y="453.80" font-size="7.0" text-anchor="end" font-weight="bold" font-style="normal" fill="#555" >1.00</text>
<line x1="39.40" y1="557.40" x2="39.40" y2="559.40" stroke="#333" stroke-width="0.6" />
<text x="39.40" y="564.40" font-size="7.0" text-anchor="middle" font-weight="bold" font-style="normal" fill="#555" >35</text>
<line x1="125.35" y1="557.40" x2="125.35" y2="559.40" stroke="#333" stroke-width="0.6" />
<text x="125.35" y="564.40" font-size="7.0" text-anchor="middle" font-weight="bold" font-style="normal" fill="#555" >50</text>
<line x1="268.60" y1="557.40" x2="268.60" y2="559.40" stroke="#333" stroke-width="0.6" />
<text x="268.60" y="564.40" font-size="7.0" text-anchor="middle" font-weight="bold" font-style="normal" fill="#555" >75</text>
<line x1="325.90" y1="557.40" x2="325.90" y2="559.40" stroke="#333" stroke-width="0.6" />
<text x="325.90" y="564.40" font-size="7.0" text-anchor="middle" font-weight="bold" font-style="normal" fill="#555" >85</text>
<text font-size="7.8" font-weight="bold" text-anchor="middle" transform="translate(7.2,501.9) rotate(-90)">Relative Frequency</text>
<text x="182.80" y="572.20" font-size="7.8" text-anchor="middle" font-weight="bold" font-style="normal" fill="#000" >Time (Generations)</text>
<rect x="369.60" y="436.30" width="313.40" height="10.00" fill="#fff" stroke="#8a8a8a" stroke-width="0.8" rx="0" />
<text x="526.30" y="443.60" font-size="7.4" text-anchor="middle" font-weight="bold" font-style="normal" fill="#1a1a1a" >Hybrid</text>
<rect x="369.60" y="446.30" width="313.40" height="111.10" fill="#fff" stroke="none" stroke-width="0" rx="0" />
<line x1="369.60" y1="539.76" x2="683.00" y2="539.76" stroke="#f5f5f5" stroke-width="0.5" />
<line x1="369.60" y1="514.49" x2="683.00" y2="514.49" stroke="#f5f5f5" stroke-width="0.5" />
<line x1="369.60" y1="489.21" x2="683.00" y2="489.21" stroke="#f5f5f5" stroke-width="0.5" />
<line x1="369.60" y1="463.94" x2="683.00" y2="463.94" stroke="#f5f5f5" stroke-width="0.5" />
<line x1="426.68" y1="446.30" x2="426.68" y2="557.40" stroke="#f5f5f5" stroke-width="0.5" />
<line x1="540.48" y1="446.30" x2="540.48" y2="557.40" stroke="#f5f5f5" stroke-width="0.5" />
<line x1="640.05" y1="446.30" x2="640.05" y2="557.40" stroke="#f5f5f5" stroke-width="0.5" />
<line x1="369.60" y1="552.40" x2="683.00" y2="552.40" stroke="#ebebeb" stroke-width="0.8" />
<line x1="369.60" y1="527.12" x2="683.00" y2="527.12" stroke="#ebebeb" stroke-width="0.8" />
<line x1="369.60" y1="501.85" x2="683.00" y2="501.85" stroke="#ebebeb" stroke-width="0.8" />
<line x1="369.60" y1="476.57" x2="683.00" y2="476.57" stroke="#ebebeb" stroke-width="0.8" />
<line x1="369.60" y1="451.30" x2="683.00" y2="451.30" stroke="#ebebeb" stroke-width="0.8" />
<line x1="384.00" y1="446.30" x2="384.00" y2="557.40" stroke="#ebebeb" stroke-width="0.8" />
<line x1="469.35" y1="446.30" x2="469.35" y2="557.40" stroke="#ebebeb" stroke-width="0.8" />
<line x1="611.60" y1="446.30" x2="611.60" y2="557.40" stroke="#ebebeb" stroke-width="0.8" />
<line x1="668.50" y1="446.30" x2="668.50" y2="557.40" stroke="#ebebeb" stroke-width="0.8" />
<polygon points="384.00,451.30 469.35,451.30 611.60,451.30 668.50,451.30 668.50,519.04 611.60,511.96 469.35,465.76 384.00,451.30" fill="#b6a1e0" stroke="none" stroke-width="0" opacity="0.97"/>
<polygon points="384.00,451.30 469.35,465.76 611.60,511.96 668.50,519.04 668.50,552.40 611.60,552.40 469.35,465.76 384.00,451.30" fill="#75bab6" stroke="none" stroke-width="0" opacity="0.97"/>
<polygon points="384.00,451.30 469.35,465.76 611.60,552.40 668.50,552.40 668.50,552.40 611.60,552.40 469.35,552.40 384.00,552.40" fill="#959595" stroke="none" stroke-width="0" opacity="0.97"/>
<polyline points="384.00,451.30 469.35,451.30 611.60,451.30 668.50,451.30" fill="none" stroke="#111" stroke-width="1.1" />
<polyline points="384.00,451.30 469.35,465.76 611.60,511.96 668.50,519.04" fill="none" stroke="#111" stroke-width="1.0" />
<polyline points="384.00,451.30 469.35,465.76 611.60,552.40 668.50,552.40" fill="none" stroke="#111" stroke-width="1.1" />
<rect x="369.60" y="446.30" width="313.40" height="111.10" fill="none" stroke="#7a7a7a" stroke-width="0.9" rx="0" />
<line x1="367.60" y1="552.40" x2="369.60" y2="552.40" stroke="#333" stroke-width="0.6" />
<text x="367.30" y="554.90" font-size="7.0" text-anchor="end" font-weight="bold" font-style="normal" fill="#555" >0.00</text>
<line x1="367.60" y1="527.12" x2="369.60" y2="527.12" stroke="#333" stroke-width="0.6" />
<text x="367.30" y="529.62" font-size="7.0" text-anchor="end" font-weight="bold" font-style="normal" fill="#555" >0.25</text>
<line x1="367.60" y1="501.85" x2="369.60" y2="501.85" stroke="#333" stroke-width="0.6" />
<text x="367.30" y="504.35" font-size="7.0" text-anchor="end" font-weight="bold" font-style="normal" fill="#555" >0.50</text>
<line x1="367.60" y1="476.57" x2="369.60" y2="476.57" stroke="#333" stroke-width="0.6" />
<text x="367.30" y="479.07" font-size="7.0" text-anchor="end" font-weight="bold" font-style="normal" fill="#555" >0.75</text>
<line x1="367.60" y1="451.30" x2="369.60" y2="451.30" stroke="#333" stroke-width="0.6" />
<text x="367.30" y="453.80" font-size="7.0" text-anchor="end" font-weight="bold" font-style="normal" fill="#555" >1.00</text>
<line x1="384.00" y1="557.40" x2="384.00" y2="559.40" stroke="#333" stroke-width="0.6" />
<text x="384.00" y="564.40" font-size="7.0" text-anchor="middle" font-weight="bold" font-style="normal" fill="#555" >35</text>
<line x1="469.35" y1="557.40" x2="469.35" y2="559.40" stroke="#333" stroke-width="0.6" />
<text x="469.35" y="564.40" font-size="7.0" text-anchor="middle" font-weight="bold" font-style="normal" fill="#555" >50</text>
<line x1="611.60" y1="557.40" x2="611.60" y2="559.40" stroke="#333" stroke-width="0.6" />
<text x="611.60" y="564.40" font-size="7.0" text-anchor="middle" font-weight="bold" font-style="normal" fill="#555" >75</text>
<line x1="668.50" y1="557.40" x2="668.50" y2="559.40" stroke="#333" stroke-width="0.6" />
<text x="668.50" y="564.40" font-size="7.0" text-anchor="middle" font-weight="bold" font-style="normal" fill="#555" >85</text>
<text font-size="7.8" font-weight="bold" text-anchor="middle" transform="translate(349.7,501.9) rotate(-90)">Relative Frequency</text>
<text x="526.30" y="572.20" font-size="7.8" text-anchor="middle" font-weight="bold" font-style="normal" fill="#000" >Time (Generations)</text>
<text x="302.80" y="44.00" font-size="13" text-anchor="start" font-weight="bold" font-style="normal" fill="#000" >d</text>
<polygon points="419.10,40.40 668.70,40.40 668.70,35.10 679.40,45.90 668.70,56.30 668.70,50.80 419.10,50.80" fill="#c8c9cc" stroke="none" stroke-width="0" />
<text x="509.3" y="48.6" font-size="8.5"><tspan font-weight="bold">Time</tspan> (Generations)</text>
<text x="439.60" y="60.60" font-size="7.4" text-anchor="middle" font-weight="normal" font-style="normal" fill="#222" >5</text>
<text x="463.60" y="60.60" font-size="7.4" text-anchor="middle" font-weight="normal" font-style="normal" fill="#222" >15</text>
<text x="488.80" y="60.60" font-size="7.4" text-anchor="middle" font-weight="normal" font-style="normal" fill="#222" >25</text>
<text x="513.80" y="60.60" font-size="7.4" text-anchor="middle" font-weight="normal" font-style="normal" fill="#222" >35</text>
<text x="550.30" y="60.60" font-size="7.4" text-anchor="middle" font-weight="normal" font-style="normal" fill="#222" >50</text>
<text x="612.30" y="60.60" font-size="7.4" text-anchor="middle" font-weight="normal" font-style="normal" fill="#222" >75</text>
<text x="637.70" y="60.60" font-size="7.4" text-anchor="middle" font-weight="normal" font-style="normal" fill="#222" >85</text>
<text x="661.30" y="60.60" font-size="7.4" text-anchor="middle" font-weight="normal" font-style="normal" fill="#222" >95</text>
<text x="353.40" y="59.30" font-size="5.95" text-anchor="start" font-weight="bold" font-style="normal" fill="#000" >Population</text>
<text x="387.60" y="59.30" font-size="6.1" text-anchor="start" font-weight="bold" font-style="normal" fill="#000" >Mutation</text>
<line x1="426.60" y1="63.00" x2="426.60" y2="234.80" stroke="#dcdcdc" stroke-width="0.6" />
<line x1="439.01" y1="63.00" x2="439.01" y2="234.80" stroke="#dcdcdc" stroke-width="0.6" />
<line x1="451.42" y1="63.00" x2="451.42" y2="234.80" stroke="#dcdcdc" stroke-width="0.6" />
<line x1="463.83" y1="63.00" x2="463.83" y2="234.80" stroke="#dcdcdc" stroke-width="0.6" />
<line x1="476.24" y1="63.00" x2="476.24" y2="234.80" stroke="#dcdcdc" stroke-width="0.6" />
<line x1="488.65" y1="63.00" x2="488.65" y2="234.80" stroke="#dcdcdc" stroke-width="0.6" />
<line x1="501.06" y1="63.00" x2="501.06" y2="234.80" stroke="#dcdcdc" stroke-width="0.6" />
<line x1="513.47" y1="63.00" x2="513.47" y2="234.80" stroke="#dcdcdc" stroke-width="0.6" />
<line x1="525.88" y1="63.00" x2="525.88" y2="234.80" stroke="#dcdcdc" stroke-width="0.6" />
<line x1="538.29" y1="63.00" x2="538.29" y2="234.80" stroke="#dcdcdc" stroke-width="0.6" />
<line x1="550.70" y1="63.00" x2="550.70" y2="234.80" stroke="#dcdcdc" stroke-width="0.6" />
<line x1="563.11" y1="63.00" x2="563.11" y2="234.80" stroke="#dcdcdc" stroke-width="0.6" />
<line x1="575.52" y1="63.00" x2="575.52" y2="234.80" stroke="#dcdcdc" stroke-width="0.6" />
<line x1="587.93" y1="63.00" x2="587.93" y2="234.80" stroke="#dcdcdc" stroke-width="0.6" />
<line x1="600.34" y1="63.00" x2="600.34" y2="234.80" stroke="#dcdcdc" stroke-width="0.6" />
<line x1="612.75" y1="63.00" x2="612.75" y2="234.80" stroke="#dcdcdc" stroke-width="0.6" />
<line x1="625.16" y1="63.00" x2="625.16" y2="234.80" stroke="#dcdcdc" stroke-width="0.6" />
<line x1="637.57" y1="63.00" x2="637.57" y2="234.80" stroke="#dcdcdc" stroke-width="0.6" />
<line x1="649.98" y1="63.00" x2="649.98" y2="234.80" stroke="#dcdcdc" stroke-width="0.6" />
<line x1="662.39" y1="63.00" x2="662.39" y2="234.80" stroke="#dcdcdc" stroke-width="0.6" />
<line x1="674.80" y1="63.00" x2="674.80" y2="234.80" stroke="#dcdcdc" stroke-width="0.6" />
<line x1="307.30" y1="63.00" x2="681.80" y2="63.00" stroke="#8a8a8a" stroke-width="0.8" />
<line x1="307.30" y1="234.80" x2="681.80" y2="234.80" stroke="#8a8a8a" stroke-width="0.8" />
<line x1="307.30" y1="102.40" x2="681.80" y2="102.40" stroke="#b0b0b0" stroke-width="0.9" />
<line x1="307.30" y1="172.40" x2="681.80" y2="172.40" stroke="#b0b0b0" stroke-width="0.9" />
<line x1="307.30" y1="63.00" x2="307.30" y2="234.80" stroke="#8a8a8a" stroke-width="0.8" />
<line x1="681.80" y1="63.00" x2="681.80" y2="234.80" stroke="#8a8a8a" stroke-width="0.8" />
<line x1="359.80" y1="63.00" x2="359.80" y2="234.80" stroke="#8a8a8a" stroke-width="0.8" />
<line x1="381.10" y1="63.00" x2="381.10" y2="234.80" stroke="#8a8a8a" stroke-width="0.8" />
<line x1="418.20" y1="63.00" x2="418.20" y2="234.80" stroke="#b0b0b0" stroke-width="0.8" />
<ellipse cx="322.5" cy="71.3" rx="5.6" ry="4.5" fill="#a9d08e" stroke="#333" stroke-width="0.5"/>
<ellipse cx="337.4" cy="79.8" rx="14" ry="11" fill="#a9d08e" stroke="#333" stroke-width="0.5"/>
<text x="334.50" y="98.60" font-size="6.3" text-anchor="middle" font-weight="normal" font-style="italic" fill="#222" >S. cerevisiae</text>
<ellipse cx="322.8" cy="129.2" rx="5.6" ry="4.5" fill="#9aaae0" stroke="#333" stroke-width="0.5"/>
<ellipse cx="337.4" cy="136.6" rx="14" ry="11" fill="#9aaae0" stroke="#333" stroke-width="0.5"/>
<text x="334.50" y="155.60" font-size="6.3" text-anchor="middle" font-weight="normal" font-style="italic" fill="#222" >S. paradoxus</text>
<ellipse cx="322.2" cy="193.0" rx="5.6" ry="4.5" fill="#c48e8e" stroke="#333" stroke-width="0.5"/>
<ellipse cx="337.4" cy="200.8" rx="14" ry="11" fill="#c48e8e" stroke="#333" stroke-width="0.5"/>
<text x="334.50" y="220.30" font-size="6.3" text-anchor="middle" font-weight="normal" font-style="normal" fill="#222" >Hybrid</text>
<text x="370.00" y="78.80" font-size="6.6" text-anchor="middle" font-weight="normal" font-style="normal" fill="#222" >2</text>
<text x="400.00" y="78.80" font-size="6.4" text-anchor="middle" font-weight="normal" font-style="normal" fill="#222" >G282V</text>
<rect x="426.40" y="70.30" width="124.70" height="11.40" fill="#9a9a9a" stroke="none" stroke-width="0" rx="0" opacity="0.45"/>
<rect x="426.00" y="69.40" width="124.70" height="11.40" fill="#c0d8a8" stroke="none" stroke-width="0" rx="0" />
<g transform="translate(439.01,75.00) scale(1,1.06)"><circle cx="0" cy="0" r="5.7" fill="#585858"/></g>
<g transform="translate(550.70,75.00) scale(1,1.06)"><path d="M0,0 L0.00,-5.70 A5.7,5.7 0 0 1 5.51,-1.48 Z" fill="#6a2fa6"/><path d="M0,0 L5.51,-1.48 A5.7,5.7 0 1 1 -0.00,-5.70 Z" fill="#60b0a8"/></g>
<text x="370.00" y="90.00" font-size="6.6" text-anchor="middle" font-weight="normal" font-style="normal" fill="#222" >25</text>
<text x="400.00" y="90.00" font-size="6.4" text-anchor="middle" font-weight="normal" font-style="normal" fill="#222" >W729L</text>
<rect x="426.40" y="86.70" width="211.57" height="11.40" fill="#9a9a9a" stroke="none" stroke-width="0" rx="0" opacity="0.45"/>
<rect x="612.75" y="85.80" width="24.82" height="11.40" fill="#dde9d0" stroke="none" stroke-width="0" rx="0" />
<rect x="426.00" y="85.80" width="186.75" height="11.40" fill="#c0d8a8" stroke="none" stroke-width="0" rx="0" />
<g transform="translate(439.01,91.50) scale(1,1.06)"><circle cx="0" cy="0" r="5.7" fill="#585858"/></g>
<g transform="translate(612.75,91.50) scale(1,1.06)"><path d="M0,0 L0.00,-5.70 A5.7,5.7 0 0 1 0.99,-5.61 Z" fill="#585858"/><path d="M0,0 L0.99,-5.61 A5.7,5.7 0 1 1 -2.41,5.17 Z" fill="#60b0a8"/><path d="M0,0 L-2.41,5.17 A5.7,5.7 0 0 1 -0.00,-5.70 Z" fill="#585858"/></g>
<g transform="translate(637.57,91.50) scale(1,1.06)"><path d="M0,0 L0.00,-5.70 A5.7,5.7 0 1 1 -5.28,-2.14 Z" fill="#60b0a8"/><path d="M0,0 L-5.28,-2.14 A5.7,5.7 0 0 1 -0.00,-5.70 Z" fill="#585858"/></g>
<text x="370.00" y="116.50" font-size="6.6" text-anchor="middle" font-weight="normal" font-style="normal" fill="#222" >22</text>
<text x="400.00" y="116.50" font-size="6.4" text-anchor="middle" font-weight="normal" font-style="normal" fill="#222" >G279S</text>
<rect x="426.40" y="108.20" width="124.70" height="11.00" fill="#9a9a9a" stroke="none" stroke-width="0" rx="0" opacity="0.45"/>
<rect x="513.47" y="107.30" width="37.23" height="11.00" fill="#d4e0f1" stroke="none" stroke-width="0" rx="0" />
<rect x="426.00" y="107.30" width="87.47" height="11.00" fill="#7fa6da" stroke="none" stroke-width="0" rx="0" />
<g transform="translate(439.01,112.80) scale(1,1.06)"><circle cx="0" cy="0" r="5.7" fill="#585858"/></g>
<g transform="translate(488.65,112.80) scale(1,1.06)"><path d="M0,0 L0.00,-5.70 A5.7,5.7 0 1 1 -1.48,5.51 Z" fill="#585858"/><path d="M0,0 L-1.48,5.51 A5.7,5.7 0 0 1 -0.00,-5.70 Z" fill="#6a2fa6"/></g>
<g transform="translate(513.47,112.80) scale(1,1.06)"><path d="M0,0 L0.00,-5.70 A5.7,5.7 0 0 1 5.36,-1.95 Z" fill="#6a2fa6"/><path d="M0,0 L5.36,-1.95 A5.7,5.7 0 0 1 -1.95,5.36 Z" fill="#60b0a8"/><path d="M0,0 L-1.95,5.36 A5.7,5.7 0 0 1 -0.00,-5.70 Z" fill="#585858"/></g>
<g transform="translate(550.70,112.80) scale(1,1.06)"><path d="M0,0 L0.00,-5.70 A5.7,5.7 0 0 1 5.36,-1.95 Z" fill="#6a2fa6"/><path d="M0,0 L5.36,-1.95 A5.7,5.7 0 1 1 -0.00,-5.70 Z" fill="#60b0a8"/></g>
<text x="370.00" y="131.00" font-size="6.6" text-anchor="middle" font-weight="normal" font-style="normal" fill="#222" >24</text>
<text x="400.00" y="131.00" font-size="6.4" text-anchor="middle" font-weight="normal" font-style="normal" fill="#222" >M307T</text>
<rect x="426.40" y="125.80" width="186.75" height="11.00" fill="#9a9a9a" stroke="none" stroke-width="0" rx="0" opacity="0.45"/>
<rect x="513.47" y="124.90" width="99.28" height="11.00" fill="#d4e0f1" stroke="none" stroke-width="0" rx="0" />
<rect x="426.00" y="124.90" width="87.47" height="11.00" fill="#7fa6da" stroke="none" stroke-width="0" rx="0" />
<g transform="translate(439.01,130.40) scale(1,1.06)"><circle cx="0" cy="0" r="5.7" fill="#585858"/></g>
<g transform="translate(488.65,130.40) scale(1,1.06)"><path d="M0,0 L0.00,-5.70 A5.7,5.7 0 0 1 5.70,-0.00 Z" fill="#585858"/><path d="M0,0 L5.70,-0.00 A5.7,5.7 0 1 1 -0.00,-5.70 Z" fill="#6a2fa6"/></g>
<g transform="translate(513.47,130.40) scale(1,1.06)"><path d="M0,0 L0.00,-5.70 A5.7,5.7 0 0 1 5.36,-1.95 Z" fill="#60b0a8"/><path d="M0,0 L5.36,-1.95 A5.7,5.7 0 1 1 -0.00,-5.70 Z" fill="#585858"/></g>
<g transform="translate(550.70,130.40) scale(1,1.06)"><path d="M0,0 L0.00,-5.70 A5.7,5.7 0 0 1 1.95,5.36 Z" fill="#6a2fa6"/><path d="M0,0 L1.95,5.36 A5.7,5.7 0 1 1 -0.00,-5.70 Z" fill="#60b0a8"/></g>
<g transform="translate(612.75,130.40) scale(1,1.06)"><circle cx="0" cy="0" r="5.7" fill="#60b0a8"/></g>
<text x="370.00" y="145.40" font-size="6.6" text-anchor="middle" font-weight="normal" font-style="normal" fill="#222" >27</text>
<text x="400.00" y="145.40" font-size="6.4" text-anchor="middle" font-weight="normal" font-style="normal" fill="#222" >M307I</text>
<rect x="426.40" y="141.10" width="236.39" height="11.00" fill="#9a9a9a" stroke="none" stroke-width="0" rx="0" opacity="0.45"/>
<rect x="637.57" y="140.20" width="24.82" height="11.00" fill="#d4e0f1" stroke="none" stroke-width="0" rx="0" />
<rect x="426.00" y="140.20" width="211.57" height="11.00" fill="#7fa6da" stroke="none" stroke-width="0" rx="0" />
<g transform="translate(439.01,145.70) scale(1,1.06)"><circle cx="0" cy="0" r="5.7" fill="#585858"/></g>
<g transform="translate(637.57,145.70) scale(1,1.06)"><path d="M0,0 L0.00,-5.70 A5.7,5.7 0 0 1 5.36,-1.95 Z" fill="#60b0a8"/><path d="M0,0 L5.36,-1.95 A5.7,5.7 0 0 1 1.95,5.36 Z" fill="#6a2fa6"/><path d="M0,0 L1.95,5.36 A5.7,5.7 0 1 1 -0.00,-5.70 Z" fill="#585858"/></g>
<g transform="translate(662.39,145.70) scale(1,1.06)"><path d="M0,0 L0.00,-5.70 A5.7,5.7 0 0 1 1.95,5.36 Z" fill="#6a2fa6"/><path d="M0,0 L1.95,5.36 A5.7,5.7 0 1 1 -0.00,-5.70 Z" fill="#60b0a8"/></g>
<text x="370.00" y="159.80" font-size="6.6" text-anchor="middle" font-weight="normal" font-style="normal" fill="#222" >29</text>
<text x="400.00" y="159.80" font-size="6.4" text-anchor="middle" font-weight="normal" font-style="normal" fill="#222" >L867F</text>
<rect x="426.40" y="156.50" width="186.75" height="10.80" fill="#9a9a9a" stroke="none" stroke-width="0" rx="0" opacity="0.45"/>
<rect x="550.70" y="155.60" width="62.05" height="10.80" fill="#d4e0f1" stroke="none" stroke-width="0" rx="0" />
<rect x="426.00" y="155.60" width="124.70" height="10.80" fill="#7fa6da" stroke="none" stroke-width="0" rx="0" />
<g transform="translate(439.01,161.00) scale(1,1.06)"><circle cx="0" cy="0" r="5.7" fill="#585858"/></g>
<g transform="translate(550.70,161.00) scale(1,1.06)"><path d="M0,0 L0.00,-5.70 A5.7,5.7 0 0 1 4.94,-2.85 Z" fill="#60b0a8"/><path d="M0,0 L4.94,-2.85 A5.7,5.7 0 0 1 2.85,4.94 Z" fill="#6a2fa6"/><path d="M0,0 L2.85,4.94 A5.7,5.7 0 1 1 -0.00,-5.70 Z" fill="#585858"/></g>
<g transform="translate(612.75,161.00) scale(1,1.06)"><circle cx="0" cy="0" r="5.7" fill="#60b0a8"/></g>
<text x="370.00" y="191.20" font-size="6.6" text-anchor="middle" font-weight="normal" font-style="normal" fill="#222" >13</text>
<text x="400.00" y="191.20" font-size="6.4" text-anchor="middle" font-weight="normal" font-style="normal" fill="#222" >D516H</text>
<rect x="426.40" y="181.50" width="236.39" height="11.30" fill="#9a9a9a" stroke="none" stroke-width="0" rx="0" opacity="0.45"/>
<rect x="612.75" y="180.60" width="49.64" height="11.30" fill="#e7d6e1" stroke="none" stroke-width="0" rx="0" />
<rect x="426.00" y="180.60" width="186.75" height="11.30" fill="#c9a2ba" stroke="none" stroke-width="0" rx="0" />
<g transform="translate(439.01,186.20) scale(1,1.06)"><circle cx="0" cy="0" r="5.7" fill="#585858"/></g>
<g transform="translate(550.70,186.20) scale(1,1.06)"><path d="M0,0 L0.00,-5.70 A5.7,5.7 0 0 1 3.66,-4.37 Z" fill="#6a2fa6"/><path d="M0,0 L3.66,-4.37 A5.7,5.7 0 1 1 -0.00,-5.70 Z" fill="#585858"/></g>
<g transform="translate(612.75,186.20) scale(1,1.06)"><path d="M0,0 L0.00,-5.70 A5.7,5.7 0 1 1 -3.27,4.67 Z" fill="#6a2fa6"/><path d="M0,0 L-3.27,4.67 A5.7,5.7 0 0 1 -0.99,-5.61 Z" fill="#60b0a8"/><path d="M0,0 L-0.99,-5.61 A5.7,5.7 0 0 1 -0.00,-5.70 Z" fill="#6a2fa6"/></g>
<g transform="translate(637.57,186.20) scale(1,1.06)"><path d="M0,0 L0.00,-5.70 A5.7,5.7 0 1 1 -5.51,1.48 Z" fill="#6a2fa6"/><path d="M0,0 L-5.51,1.48 A5.7,5.7 0 0 1 -0.00,-5.70 Z" fill="#60b0a8"/></g>
<g transform="translate(662.39,186.20) scale(1,1.06)"><path d="M0,0 L0.00,-5.70 A5.7,5.7 0 1 1 -4.94,2.85 Z" fill="#6a2fa6"/><path d="M0,0 L-4.94,2.85 A5.7,5.7 0 0 1 -0.00,-5.70 Z" fill="#60b0a8"/></g>
<text x="370.00" y="205.70" font-size="6.6" text-anchor="middle" font-weight="normal" font-style="normal" fill="#222" >28</text>
<text x="400.00" y="205.70" font-size="6.4" text-anchor="middle" font-weight="normal" font-style="normal" fill="#222" >M308I</text>
<rect x="426.40" y="199.00" width="236.39" height="11.20" fill="#9a9a9a" stroke="none" stroke-width="0" rx="0" opacity="0.45"/>
<rect x="612.75" y="198.10" width="49.64" height="11.20" fill="#e7d6e1" stroke="none" stroke-width="0" rx="0" />
<rect x="426.00" y="198.10" width="186.75" height="11.20" fill="#c9a2ba" stroke="none" stroke-width="0" rx="0" />
<g transform="translate(439.01,203.70) scale(1,1.06)"><circle cx="0" cy="0" r="5.7" fill="#585858"/></g>
<g transform="translate(550.70,203.70) scale(1,1.06)"><path d="M0,0 L0.00,-5.70 A5.7,5.7 0 1 1 -4.94,-2.85 Z" fill="#6a2fa6"/><path d="M0,0 L-4.94,-2.85 A5.7,5.7 0 0 1 -0.00,-5.70 Z" fill="#585858"/></g>
<g transform="translate(612.75,203.70) scale(1,1.06)"><path d="M0,0 L0.00,-5.70 A5.7,5.7 0 1 1 -4.03,-4.03 Z" fill="#6a2fa6"/><path d="M0,0 L-4.03,-4.03 A5.7,5.7 0 0 1 -0.00,-5.70 Z" fill="#60b0a8"/></g>
<g transform="translate(637.57,203.70) scale(1,1.06)"><path d="M0,0 L0.00,-5.70 A5.7,5.7 0 1 1 -4.37,-3.66 Z" fill="#6a2fa6"/><path d="M0,0 L-4.37,-3.66 A5.7,5.7 0 0 1 -0.00,-5.70 Z" fill="#60b0a8"/></g>
<g transform="translate(662.39,203.70) scale(1,1.06)"><path d="M0,0 L0.00,-5.70 A5.7,5.7 0 1 1 -4.37,-3.66 Z" fill="#6a2fa6"/><path d="M0,0 L-4.37,-3.66 A5.7,5.7 0 0 1 -0.00,-5.70 Z" fill="#60b0a8"/></g>
<text x="370.00" y="220.40" font-size="6.6" text-anchor="middle" font-weight="normal" font-style="normal" fill="#222" >30</text>
<text x="400.00" y="220.40" font-size="6.4" text-anchor="middle" font-weight="normal" font-style="normal" fill="#222" >R820H</text>
<rect x="426.40" y="217.20" width="236.39" height="11.00" fill="#9a9a9a" stroke="none" stroke-width="0" rx="0" opacity="0.45"/>
<rect x="612.75" y="216.30" width="49.64" height="11.00" fill="#e7d6e1" stroke="none" stroke-width="0" rx="0" />
<rect x="426.00" y="216.30" width="186.75" height="11.00" fill="#c9a2ba" stroke="none" stroke-width="0" rx="0" />
<g transform="translate(439.01,221.60) scale(1,1.06)"><circle cx="0" cy="0" r="5.7" fill="#585858"/></g>
<g transform="translate(550.70,221.60) scale(1,1.06)"><path d="M0,0 L0.00,-5.70 A5.7,5.7 0 0 1 1.48,-5.51 Z" fill="#585858"/><path d="M0,0 L1.48,-5.51 A5.7,5.7 0 1 1 -1.95,5.36 Z" fill="#6a2fa6"/><path d="M0,0 L-1.95,5.36 A5.7,5.7 0 0 1 -0.00,-5.70 Z" fill="#585858"/></g>
<g transform="translate(612.75,221.60) scale(1,1.06)"><path d="M0,0 L0.00,-5.70 A5.7,5.7 0 0 1 5.61,-0.99 Z" fill="#6a2fa6"/><path d="M0,0 L5.61,-0.99 A5.7,5.7 0 0 1 2.85,4.94 Z" fill="#60b0a8"/><path d="M0,0 L2.85,4.94 A5.7,5.7 0 1 1 -0.00,-5.70 Z" fill="#585858"/></g>
<g transform="translate(637.57,221.60) scale(1,1.06)"><path d="M0,0 L0.00,-5.70 A5.7,5.7 0 0 1 4.94,-2.85 Z" fill="#60b0a8"/><path d="M0,0 L4.94,-2.85 A5.7,5.7 0 1 1 -0.00,-5.70 Z" fill="#585858"/></g>
<g transform="translate(662.39,221.60) scale(1,1.06)"><path d="M0,0 L0.00,-5.70 A5.7,5.7 0 0 1 0.00,5.70 Z" fill="#60b0a8"/><path d="M0,0 L0.00,5.70 A5.7,5.7 0 0 1 -0.00,-5.70 Z" fill="#585858"/></g>
<text x="302.60" y="267.20" font-size="13" text-anchor="start" font-weight="bold" font-style="normal" fill="#000" >e</text>
<rect x="325.60" y="255.00" width="116.00" height="12.20" fill="#fff" stroke="#a8a8a8" stroke-width="0.8" rx="0" />
<text x="383.60" y="264.40" font-size="7.4" text-anchor="middle" font-weight="normal" font-style="normal" fill="#1a1a1a" >13</text>
<rect x="325.60" y="267.20" width="116.00" height="161.40" fill="#fff" stroke="none" stroke-width="0" rx="0" />
<line x1="325.60" y1="400.63" x2="441.60" y2="400.63" stroke="#f5f5f5" stroke-width="0.5" />
<line x1="325.60" y1="358.89" x2="441.60" y2="358.89" stroke="#f5f5f5" stroke-width="0.5" />
<line x1="325.60" y1="317.15" x2="441.60" y2="317.15" stroke="#f5f5f5" stroke-width="0.5" />
<line x1="325.60" y1="275.41" x2="441.60" y2="275.41" stroke="#f5f5f5" stroke-width="0.5" />
<line x1="325.60" y1="421.50" x2="441.60" y2="421.50" stroke="#ebebeb" stroke-width="0.8" />
<line x1="325.60" y1="379.76" x2="441.60" y2="379.76" stroke="#ebebeb" stroke-width="0.8" />
<line x1="325.60" y1="338.02" x2="441.60" y2="338.02" stroke="#ebebeb" stroke-width="0.8" />
<line x1="325.60" y1="296.28" x2="441.60" y2="296.28" stroke="#ebebeb" stroke-width="0.8" />
<line x1="347.40" y1="267.20" x2="347.40" y2="428.60" stroke="#ebebeb" stroke-width="0.8" />
<line x1="383.70" y1="267.20" x2="383.70" y2="428.60" stroke="#ebebeb" stroke-width="0.8" />
<line x1="419.90" y1="267.20" x2="419.90" y2="428.60" stroke="#ebebeb" stroke-width="0.8" />
<rect x="325.60" y="267.20" width="116.00" height="161.40" fill="none" stroke="#8a8a8a" stroke-width="0.9" rx="0" />
<text x="336.40" y="277.60" font-size="7.5" text-anchor="start" font-weight="normal" font-style="italic" fill="#000" >p &lt; 0.0001</text>
<line x1="347.40" y1="312.80" x2="347.40" y2="315.10" stroke="#444" stroke-width="0.7" />
<line x1="347.40" y1="322.60" x2="347.40" y2="333.20" stroke="#444" stroke-width="0.7" />
<rect x="333.70" y="315.10" width="27.40" height="7.50" fill="#b39de0" stroke="#444" stroke-width="0.7" rx="0" />
<line x1="333.70" y1="321.60" x2="361.10" y2="321.60" stroke="#333" stroke-width="1.3" />
<circle cx="347.40" cy="290.20" r="1.65" fill="#7459c6" stroke="#262630" stroke-width="0.55"/>
<circle cx="347.40" cy="312.80" r="1.65" fill="#7459c6" stroke="#262630" stroke-width="0.55"/>
<circle cx="347.40" cy="314.50" r="1.65" fill="#7459c6" stroke="#262630" stroke-width="0.55"/>
<circle cx="347.40" cy="316.20" r="1.65" fill="#7459c6" stroke="#262630" stroke-width="0.55"/>
<circle cx="347.40" cy="317.90" r="1.65" fill="#7459c6" stroke="#262630" stroke-width="0.55"/>
<circle cx="347.40" cy="319.60" r="1.65" fill="#7459c6" stroke="#262630" stroke-width="0.55"/>
<circle cx="347.40" cy="321.30" r="1.65" fill="#7459c6" stroke="#262630" stroke-width="0.55"/>
<circle cx="347.40" cy="323.00" r="1.65" fill="#7459c6" stroke="#262630" stroke-width="0.55"/>
<circle cx="347.40" cy="331.60" r="1.65" fill="#7459c6" stroke="#262630" stroke-width="0.55"/>
<circle cx="347.40" cy="333.20" r="1.65" fill="#7459c6" stroke="#262630" stroke-width="0.55"/>
<line x1="383.70" y1="303.80" x2="383.70" y2="306.50" stroke="#444" stroke-width="0.7" />
<line x1="383.70" y1="309.70" x2="383.70" y2="310.60" stroke="#444" stroke-width="0.7" />
<rect x="370.00" y="306.50" width="27.40" height="3.20" fill="#82c5bf" stroke="#444" stroke-width="0.7" rx="0" />
<line x1="370.00" y1="307.90" x2="397.40" y2="307.90" stroke="#333" stroke-width="1.3" />
<circle cx="383.70" cy="303.80" r="1.65" fill="#1f8a86" stroke="#262630" stroke-width="0.55"/>
<circle cx="383.70" cy="305.50" r="1.65" fill="#1f8a86" stroke="#262630" stroke-width="0.55"/>
<circle cx="383.70" cy="307.20" r="1.65" fill="#1f8a86" stroke="#262630" stroke-width="0.55"/>
<circle cx="383.70" cy="308.90" r="1.65" fill="#1f8a86" stroke="#262630" stroke-width="0.55"/>
<circle cx="383.70" cy="310.60" r="1.65" fill="#1f8a86" stroke="#262630" stroke-width="0.55"/>
<circle cx="383.70" cy="333.90" r="1.65" fill="#1f8a86" stroke="#262630" stroke-width="0.55"/>
<line x1="419.90" y1="323.00" x2="419.90" y2="337.30" stroke="#444" stroke-width="0.7" />
<line x1="419.90" y1="368.30" x2="419.90" y2="399.30" stroke="#444" stroke-width="0.7" />
<rect x="406.20" y="337.30" width="27.40" height="31.00" fill="#959595" stroke="#444" stroke-width="0.7" rx="0" />
<line x1="406.20" y1="354.20" x2="433.60" y2="354.20" stroke="#333" stroke-width="1.3" />
<circle cx="419.90" cy="323.00" r="1.65" fill="#333" stroke="#262630" stroke-width="0.55"/>
<circle cx="419.90" cy="329.80" r="1.65" fill="#333" stroke="#262630" stroke-width="0.55"/>
<circle cx="419.90" cy="332.06" r="1.65" fill="#333" stroke="#262630" stroke-width="0.55"/>
<circle cx="419.90" cy="334.32" r="1.65" fill="#333" stroke="#262630" stroke-width="0.55"/>
<circle cx="419.90" cy="336.58" r="1.65" fill="#333" stroke="#262630" stroke-width="0.55"/>
<circle cx="419.90" cy="338.84" r="1.65" fill="#333" stroke="#262630" stroke-width="0.55"/>
<circle cx="419.90" cy="341.10" r="1.65" fill="#333" stroke="#262630" stroke-width="0.55"/>
<circle cx="419.90" cy="350.20" r="1.65" fill="#333" stroke="#262630" stroke-width="0.55"/>
<circle cx="419.90" cy="352.83" r="1.65" fill="#333" stroke="#262630" stroke-width="0.55"/>
<circle cx="419.90" cy="355.47" r="1.65" fill="#333" stroke="#262630" stroke-width="0.55"/>
<circle cx="419.90" cy="358.10" r="1.65" fill="#333" stroke="#262630" stroke-width="0.55"/>
<circle cx="419.90" cy="361.50" r="1.65" fill="#333" stroke="#262630" stroke-width="0.55"/>
<circle cx="419.90" cy="364.13" r="1.65" fill="#333" stroke="#262630" stroke-width="0.55"/>
<circle cx="419.90" cy="366.77" r="1.65" fill="#333" stroke="#262630" stroke-width="0.55"/>
<circle cx="419.90" cy="369.40" r="1.65" fill="#333" stroke="#262630" stroke-width="0.55"/>
<circle cx="419.90" cy="375.00" r="1.65" fill="#333" stroke="#262630" stroke-width="0.55"/>
<circle cx="419.90" cy="377.28" r="1.65" fill="#333" stroke="#262630" stroke-width="0.55"/>
<circle cx="419.90" cy="379.56" r="1.65" fill="#333" stroke="#262630" stroke-width="0.55"/>
<circle cx="419.90" cy="381.84" r="1.65" fill="#333" stroke="#262630" stroke-width="0.55"/>
<circle cx="419.90" cy="384.12" r="1.65" fill="#333" stroke="#262630" stroke-width="0.55"/>
<circle cx="419.90" cy="386.40" r="1.65" fill="#333" stroke="#262630" stroke-width="0.55"/>
<circle cx="419.90" cy="399.30" r="1.65" fill="#333" stroke="#262630" stroke-width="0.55"/>
<line x1="323.60" y1="421.50" x2="325.60" y2="421.50" stroke="#333" stroke-width="0.6" />
<text x="322.10" y="423.90" font-size="6.9" text-anchor="end" font-weight="normal" font-style="normal" fill="#4d4d4d" >0.0</text>
<line x1="323.60" y1="379.76" x2="325.60" y2="379.76" stroke="#333" stroke-width="0.6" />
<text x="322.10" y="382.16" font-size="6.9" text-anchor="end" font-weight="normal" font-style="normal" fill="#4d4d4d" >0.2</text>
<line x1="323.60" y1="338.02" x2="325.60" y2="338.02" stroke="#333" stroke-width="0.6" />
<text x="322.10" y="340.42" font-size="6.9" text-anchor="end" font-weight="normal" font-style="normal" fill="#4d4d4d" >0.4</text>
<line x1="323.60" y1="296.28" x2="325.60" y2="296.28" stroke="#333" stroke-width="0.6" />
<text x="322.10" y="298.68" font-size="6.9" text-anchor="end" font-weight="normal" font-style="normal" fill="#4d4d4d" >0.6</text>
<text font-size="8.2" font-weight="bold" text-anchor="middle" transform="translate(307.6,347.7) rotate(-90)">Growth rate (OD/hour)</text>
<rect x="445.60" y="255.00" width="116.00" height="12.20" fill="#fff" stroke="#a8a8a8" stroke-width="0.8" rx="0" />
<text x="503.60" y="264.40" font-size="7.4" text-anchor="middle" font-weight="normal" font-style="normal" fill="#1a1a1a" >28</text>
<rect x="445.60" y="267.20" width="116.00" height="161.40" fill="#fff" stroke="none" stroke-width="0" rx="0" />
<line x1="445.60" y1="400.63" x2="561.60" y2="400.63" stroke="#f5f5f5" stroke-width="0.5" />
<line x1="445.60" y1="358.89" x2="561.60" y2="358.89" stroke="#f5f5f5" stroke-width="0.5" />
<line x1="445.60" y1="317.15" x2="561.60" y2="317.15" stroke="#f5f5f5" stroke-width="0.5" />
<line x1="445.60" y1="275.41" x2="561.60" y2="275.41" stroke="#f5f5f5" stroke-width="0.5" />
<line x1="445.60" y1="421.50" x2="561.60" y2="421.50" stroke="#ebebeb" stroke-width="0.8" />
<line x1="445.60" y1="379.76" x2="561.60" y2="379.76" stroke="#ebebeb" stroke-width="0.8" />
<line x1="445.60" y1="338.02" x2="561.60" y2="338.02" stroke="#ebebeb" stroke-width="0.8" />
<line x1="445.60" y1="296.28" x2="561.60" y2="296.28" stroke="#ebebeb" stroke-width="0.8" />
<line x1="467.40" y1="267.20" x2="467.40" y2="428.60" stroke="#ebebeb" stroke-width="0.8" />
<line x1="503.70" y1="267.20" x2="503.70" y2="428.60" stroke="#ebebeb" stroke-width="0.8" />
<line x1="539.90" y1="267.20" x2="539.90" y2="428.60" stroke="#ebebeb" stroke-width="0.8" />
<rect x="445.60" y="267.20" width="116.00" height="161.40" fill="none" stroke="#8a8a8a" stroke-width="0.9" rx="0" />
<text x="456.40" y="277.60" font-size="7.5" text-anchor="start" font-weight="normal" font-style="italic" fill="#000" >p &lt; 0.0001</text>
<line x1="467.40" y1="297.30" x2="467.40" y2="310.10" stroke="#444" stroke-width="0.7" />
<line x1="467.40" y1="325.50" x2="467.40" y2="349.40" stroke="#444" stroke-width="0.7" />
<rect x="453.70" y="310.10" width="27.40" height="15.40" fill="#b39de0" stroke="#444" stroke-width="0.7" rx="0" />
<line x1="453.70" y1="314.50" x2="481.10" y2="314.50" stroke="#333" stroke-width="1.3" />
<circle cx="467.40" cy="297.30" r="1.65" fill="#7459c6" stroke="#262630" stroke-width="0.55"/>
<circle cx="467.40" cy="306.30" r="1.65" fill="#7459c6" stroke="#262630" stroke-width="0.55"/>
<circle cx="467.40" cy="308.22" r="1.65" fill="#7459c6" stroke="#262630" stroke-width="0.55"/>
<circle cx="467.40" cy="310.14" r="1.65" fill="#7459c6" stroke="#262630" stroke-width="0.55"/>
<circle cx="467.40" cy="312.05" r="1.65" fill="#7459c6" stroke="#262630" stroke-width="0.55"/>
<circle cx="467.40" cy="313.97" r="1.65" fill="#7459c6" stroke="#262630" stroke-width="0.55"/>
<circle cx="467.40" cy="315.89" r="1.65" fill="#7459c6" stroke="#262630" stroke-width="0.55"/>
<circle cx="467.40" cy="317.81" r="1.65" fill="#7459c6" stroke="#262630" stroke-width="0.55"/>
<circle cx="467.40" cy="319.73" r="1.65" fill="#7459c6" stroke="#262630" stroke-width="0.55"/>
<circle cx="467.40" cy="321.65" r="1.65" fill="#7459c6" stroke="#262630" stroke-width="0.55"/>
<circle cx="467.40" cy="323.56" r="1.65" fill="#7459c6" stroke="#262630" stroke-width="0.55"/>
<circle cx="467.40" cy="325.48" r="1.65" fill="#7459c6" stroke="#262630" stroke-width="0.55"/>
<circle cx="467.40" cy="327.40" r="1.65" fill="#7459c6" stroke="#262630" stroke-width="0.55"/>
<circle cx="467.40" cy="332.20" r="1.65" fill="#7459c6" stroke="#262630" stroke-width="0.55"/>
<circle cx="467.40" cy="335.00" r="1.65" fill="#7459c6" stroke="#262630" stroke-width="0.55"/>
<circle cx="467.40" cy="338.00" r="1.65" fill="#7459c6" stroke="#262630" stroke-width="0.55"/>
<circle cx="467.40" cy="341.00" r="1.65" fill="#7459c6" stroke="#262630" stroke-width="0.55"/>
<circle cx="467.40" cy="344.00" r="1.65" fill="#7459c6" stroke="#262630" stroke-width="0.55"/>
<circle cx="467.40" cy="349.40" r="1.65" fill="#7459c6" stroke="#262630" stroke-width="0.55"/>
<line x1="503.70" y1="296.10" x2="503.70" y2="299.20" stroke="#444" stroke-width="0.7" />
<line x1="503.70" y1="302.60" x2="503.70" y2="304.40" stroke="#444" stroke-width="0.7" />
<rect x="490.00" y="299.20" width="27.40" height="3.40" fill="#82c5bf" stroke="#444" stroke-width="0.7" rx="0" />
<line x1="490.00" y1="300.90" x2="517.40" y2="300.90" stroke="#333" stroke-width="1.3" />
<circle cx="503.70" cy="296.10" r="1.65" fill="#1f8a86" stroke="#262630" stroke-width="0.55"/>
<circle cx="503.70" cy="298.18" r="1.65" fill="#1f8a86" stroke="#262630" stroke-width="0.55"/>
<circle cx="503.70" cy="300.25" r="1.65" fill="#1f8a86" stroke="#262630" stroke-width="0.55"/>
<circle cx="503.70" cy="302.32" r="1.65" fill="#1f8a86" stroke="#262630" stroke-width="0.55"/>
<circle cx="503.70" cy="304.40" r="1.65" fill="#1f8a86" stroke="#262630" stroke-width="0.55"/>
<line x1="539.90" y1="355.20" x2="539.90" y2="377.20" stroke="#444" stroke-width="0.7" />
<line x1="539.90" y1="386.40" x2="539.90" y2="393.50" stroke="#444" stroke-width="0.7" />
<rect x="526.20" y="377.20" width="27.40" height="9.20" fill="#959595" stroke="#444" stroke-width="0.7" rx="0" />
<line x1="526.20" y1="381.60" x2="553.60" y2="381.60" stroke="#333" stroke-width="1.3" />
<circle cx="539.90" cy="355.20" r="1.65" fill="#333" stroke="#262630" stroke-width="0.55"/>
<circle cx="539.90" cy="358.00" r="1.65" fill="#333" stroke="#262630" stroke-width="0.55"/>
<circle cx="539.90" cy="364.70" r="1.65" fill="#333" stroke="#262630" stroke-width="0.55"/>
<circle cx="539.90" cy="368.60" r="1.65" fill="#333" stroke="#262630" stroke-width="0.55"/>
<circle cx="539.90" cy="370.52" r="1.65" fill="#333" stroke="#262630" stroke-width="0.55"/>
<circle cx="539.90" cy="372.43" r="1.65" fill="#333" stroke="#262630" stroke-width="0.55"/>
<circle cx="539.90" cy="374.35" r="1.65" fill="#333" stroke="#262630" stroke-width="0.55"/>
<circle cx="539.90" cy="376.26" r="1.65" fill="#333" stroke="#262630" stroke-width="0.55"/>
<circle cx="539.90" cy="378.18" r="1.65" fill="#333" stroke="#262630" stroke-width="0.55"/>
<circle cx="539.90" cy="380.09" r="1.65" fill="#333" stroke="#262630" stroke-width="0.55"/>
<circle cx="539.90" cy="382.01" r="1.65" fill="#333" stroke="#262630" stroke-width="0.55"/>
<circle cx="539.90" cy="383.92" r="1.65" fill="#333" stroke="#262630" stroke-width="0.55"/>
<circle cx="539.90" cy="385.84" r="1.65" fill="#333" stroke="#262630" stroke-width="0.55"/>
<circle cx="539.90" cy="387.75" r="1.65" fill="#333" stroke="#262630" stroke-width="0.55"/>
<circle cx="539.90" cy="389.67" r="1.65" fill="#333" stroke="#262630" stroke-width="0.55"/>
<circle cx="539.90" cy="391.58" r="1.65" fill="#333" stroke="#262630" stroke-width="0.55"/>
<circle cx="539.90" cy="393.50" r="1.65" fill="#333" stroke="#262630" stroke-width="0.55"/>
<rect x="565.60" y="255.00" width="116.00" height="12.20" fill="#fff" stroke="#a8a8a8" stroke-width="0.8" rx="0" />
<text x="623.60" y="264.40" font-size="7.4" text-anchor="middle" font-weight="normal" font-style="normal" fill="#1a1a1a" >30</text>
<rect x="565.60" y="267.20" width="116.00" height="161.40" fill="#fff" stroke="none" stroke-width="0" rx="0" />
<line x1="565.60" y1="400.63" x2="681.60" y2="400.63" stroke="#f5f5f5" stroke-width="0.5" />
<line x1="565.60" y1="358.89" x2="681.60" y2="358.89" stroke="#f5f5f5" stroke-width="0.5" />
<line x1="565.60" y1="317.15" x2="681.60" y2="317.15" stroke="#f5f5f5" stroke-width="0.5" />
<line x1="565.60" y1="275.41" x2="681.60" y2="275.41" stroke="#f5f5f5" stroke-width="0.5" />
<line x1="565.60" y1="421.50" x2="681.60" y2="421.50" stroke="#ebebeb" stroke-width="0.8" />
<line x1="565.60" y1="379.76" x2="681.60" y2="379.76" stroke="#ebebeb" stroke-width="0.8" />
<line x1="565.60" y1="338.02" x2="681.60" y2="338.02" stroke="#ebebeb" stroke-width="0.8" />
<line x1="565.60" y1="296.28" x2="681.60" y2="296.28" stroke="#ebebeb" stroke-width="0.8" />
<line x1="587.40" y1="267.20" x2="587.40" y2="428.60" stroke="#ebebeb" stroke-width="0.8" />
<line x1="623.70" y1="267.20" x2="623.70" y2="428.60" stroke="#ebebeb" stroke-width="0.8" />
<line x1="659.90" y1="267.20" x2="659.90" y2="428.60" stroke="#ebebeb" stroke-width="0.8" />
<rect x="565.60" y="267.20" width="116.00" height="161.40" fill="none" stroke="#8a8a8a" stroke-width="0.9" rx="0" />
<text x="576.40" y="277.60" font-size="7.5" text-anchor="start" font-weight="normal" font-style="italic" fill="#000" >p &lt; 0.001</text>
<line x1="587.40" y1="333.00" x2="587.40" y2="354.50" stroke="#444" stroke-width="0.7" />
<line x1="587.40" y1="378.20" x2="587.40" y2="413.00" stroke="#444" stroke-width="0.7" />
<rect x="573.70" y="354.50" width="27.40" height="23.70" fill="#b39de0" stroke="#444" stroke-width="0.7" rx="0" />
<line x1="573.70" y1="369.90" x2="601.10" y2="369.90" stroke="#333" stroke-width="1.3" />
<circle cx="587.40" cy="313.00" r="1.65" fill="#7459c6" stroke="#262630" stroke-width="0.55"/>
<circle cx="587.40" cy="333.00" r="1.65" fill="#7459c6" stroke="#262630" stroke-width="0.55"/>
<circle cx="587.40" cy="339.10" r="1.65" fill="#7459c6" stroke="#262630" stroke-width="0.55"/>
<circle cx="587.40" cy="342.80" r="1.65" fill="#7459c6" stroke="#262630" stroke-width="0.55"/>
<circle cx="587.40" cy="346.00" r="1.65" fill="#7459c6" stroke="#262630" stroke-width="0.55"/>
<circle cx="587.40" cy="353.30" r="1.65" fill="#7459c6" stroke="#262630" stroke-width="0.55"/>
<circle cx="587.40" cy="356.53" r="1.65" fill="#7459c6" stroke="#262630" stroke-width="0.55"/>
<circle cx="587.40" cy="359.77" r="1.65" fill="#7459c6" stroke="#262630" stroke-width="0.55"/>
<circle cx="587.40" cy="363.00" r="1.65" fill="#7459c6" stroke="#262630" stroke-width="0.55"/>
<circle cx="587.40" cy="369.10" r="1.65" fill="#7459c6" stroke="#262630" stroke-width="0.55"/>
<circle cx="587.40" cy="371.80" r="1.65" fill="#7459c6" stroke="#262630" stroke-width="0.55"/>
<circle cx="587.40" cy="374.50" r="1.65" fill="#7459c6" stroke="#262630" stroke-width="0.55"/>
<circle cx="587.40" cy="377.20" r="1.65" fill="#7459c6" stroke="#262630" stroke-width="0.55"/>
<circle cx="587.40" cy="379.90" r="1.65" fill="#7459c6" stroke="#262630" stroke-width="0.55"/>
<circle cx="587.40" cy="382.60" r="1.65" fill="#7459c6" stroke="#262630" stroke-width="0.55"/>
<circle cx="587.40" cy="392.30" r="1.65" fill="#7459c6" stroke="#262630" stroke-width="0.55"/>
<circle cx="587.40" cy="413.00" r="1.65" fill="#7459c6" stroke="#262630" stroke-width="0.55"/>
<line x1="623.70" y1="302.10" x2="623.70" y2="310.10" stroke="#444" stroke-width="0.7" />
<line x1="623.70" y1="333.00" x2="623.70" y2="343.50" stroke="#444" stroke-width="0.7" />
<rect x="610.00" y="310.10" width="27.40" height="22.90" fill="#82c5bf" stroke="#444" stroke-width="0.7" rx="0" />
<line x1="610.00" y1="314.80" x2="637.40" y2="314.80" stroke="#333" stroke-width="1.3" />
<circle cx="623.70" cy="302.10" r="1.65" fill="#1f8a86" stroke="#262630" stroke-width="0.55"/>
<circle cx="623.70" cy="305.70" r="1.65" fill="#1f8a86" stroke="#262630" stroke-width="0.55"/>
<circle cx="623.70" cy="308.15" r="1.65" fill="#1f8a86" stroke="#262630" stroke-width="0.55"/>
<circle cx="623.70" cy="310.60" r="1.65" fill="#1f8a86" stroke="#262630" stroke-width="0.55"/>
<circle cx="623.70" cy="313.05" r="1.65" fill="#1f8a86" stroke="#262630" stroke-width="0.55"/>
<circle cx="623.70" cy="315.50" r="1.65" fill="#1f8a86" stroke="#262630" stroke-width="0.55"/>
<circle cx="623.70" cy="328.90" r="1.65" fill="#1f8a86" stroke="#262630" stroke-width="0.55"/>
<circle cx="623.70" cy="331.35" r="1.65" fill="#1f8a86" stroke="#262630" stroke-width="0.55"/>
<circle cx="623.70" cy="333.80" r="1.65" fill="#1f8a86" stroke="#262630" stroke-width="0.55"/>
<circle cx="623.70" cy="341.10" r="1.65" fill="#1f8a86" stroke="#262630" stroke-width="0.55"/>
<circle cx="623.70" cy="343.50" r="1.65" fill="#1f8a86" stroke="#262630" stroke-width="0.55"/>
<line x1="659.90" y1="292.30" x2="659.90" y2="327.20" stroke="#444" stroke-width="0.7" />
<line x1="659.90" y1="390.40" x2="659.90" y2="418.70" stroke="#444" stroke-width="0.7" />
<rect x="646.20" y="327.20" width="27.40" height="63.20" fill="#959595" stroke="#444" stroke-width="0.7" rx="0" />
<line x1="646.20" y1="375.70" x2="673.60" y2="375.70" stroke="#333" stroke-width="1.3" />
<circle cx="659.90" cy="292.30" r="1.65" fill="#333" stroke="#262630" stroke-width="0.55"/>
<circle cx="659.90" cy="302.10" r="1.65" fill="#333" stroke="#262630" stroke-width="0.55"/>
<circle cx="659.90" cy="307.00" r="1.65" fill="#333" stroke="#262630" stroke-width="0.55"/>
<circle cx="659.90" cy="309.43" r="1.65" fill="#333" stroke="#262630" stroke-width="0.55"/>
<circle cx="659.90" cy="311.86" r="1.65" fill="#333" stroke="#262630" stroke-width="0.55"/>
<circle cx="659.90" cy="314.29" r="1.65" fill="#333" stroke="#262630" stroke-width="0.55"/>
<circle cx="659.90" cy="316.71" r="1.65" fill="#333" stroke="#262630" stroke-width="0.55"/>
<circle cx="659.90" cy="319.14" r="1.65" fill="#333" stroke="#262630" stroke-width="0.55"/>
<circle cx="659.90" cy="321.57" r="1.65" fill="#333" stroke="#262630" stroke-width="0.55"/>
<circle cx="659.90" cy="324.00" r="1.65" fill="#333" stroke="#262630" stroke-width="0.55"/>
<circle cx="659.90" cy="326.43" r="1.65" fill="#333" stroke="#262630" stroke-width="0.55"/>
<circle cx="659.90" cy="328.86" r="1.65" fill="#333" stroke="#262630" stroke-width="0.55"/>
<circle cx="659.90" cy="331.29" r="1.65" fill="#333" stroke="#262630" stroke-width="0.55"/>
<circle cx="659.90" cy="333.71" r="1.65" fill="#333" stroke="#262630" stroke-width="0.55"/>
<circle cx="659.90" cy="336.14" r="1.65" fill="#333" stroke="#262630" stroke-width="0.55"/>
<circle cx="659.90" cy="338.57" r="1.65" fill="#333" stroke="#262630" stroke-width="0.55"/>
<circle cx="659.90" cy="341.00" r="1.65" fill="#333" stroke="#262630" stroke-width="0.55"/>
<circle cx="659.90" cy="346.00" r="1.65" fill="#333" stroke="#262630" stroke-width="0.55"/>
<circle cx="659.90" cy="353.30" r="1.65" fill="#333" stroke="#262630" stroke-width="0.55"/>
<circle cx="659.90" cy="356.24" r="1.65" fill="#333" stroke="#262630" stroke-width="0.55"/>
<circle cx="659.90" cy="359.18" r="1.65" fill="#333" stroke="#262630" stroke-width="0.55"/>
<circle cx="659.90" cy="362.12" r="1.65" fill="#333" stroke="#262630" stroke-width="0.55"/>
<circle cx="659.90" cy="365.06" r="1.65" fill="#333" stroke="#262630" stroke-width="0.55"/>
<circle cx="659.90" cy="368.00" r="1.65" fill="#333" stroke="#262630" stroke-width="0.55"/>
<circle cx="659.90" cy="375.00" r="1.65" fill="#333" stroke="#262630" stroke-width="0.55"/>
<circle cx="659.90" cy="377.45" r="1.65" fill="#333" stroke="#262630" stroke-width="0.55"/>
<circle cx="659.90" cy="379.91" r="1.65" fill="#333" stroke="#262630" stroke-width="0.55"/>
<circle cx="659.90" cy="382.36" r="1.65" fill="#333" stroke="#262630" stroke-width="0.55"/>
<circle cx="659.90" cy="384.81" r="1.65" fill="#333" stroke="#262630" stroke-width="0.55"/>
<circle cx="659.90" cy="387.27" r="1.65" fill="#333" stroke="#262630" stroke-width="0.55"/>
<circle cx="659.90" cy="389.72" r="1.65" fill="#333" stroke="#262630" stroke-width="0.55"/>
<circle cx="659.90" cy="392.17" r="1.65" fill="#333" stroke="#262630" stroke-width="0.55"/>
<circle cx="659.90" cy="394.63" r="1.65" fill="#333" stroke="#262630" stroke-width="0.55"/>
<circle cx="659.90" cy="397.08" r="1.65" fill="#333" stroke="#262630" stroke-width="0.55"/>
<circle cx="659.90" cy="399.53" r="1.65" fill="#333" stroke="#262630" stroke-width="0.55"/>
<circle cx="659.90" cy="401.99" r="1.65" fill="#333" stroke="#262630" stroke-width="0.55"/>
<circle cx="659.90" cy="404.44" r="1.65" fill="#333" stroke="#262630" stroke-width="0.55"/>
<circle cx="659.90" cy="406.89" r="1.65" fill="#333" stroke="#262630" stroke-width="0.55"/>
<circle cx="659.90" cy="409.35" r="1.65" fill="#333" stroke="#262630" stroke-width="0.55"/>
<circle cx="659.90" cy="411.80" r="1.65" fill="#333" stroke="#262630" stroke-width="0.55"/>
<circle cx="659.90" cy="418.70" r="1.65" fill="#333" stroke="#262630" stroke-width="0.55"/>
</svg>
</body></html>
